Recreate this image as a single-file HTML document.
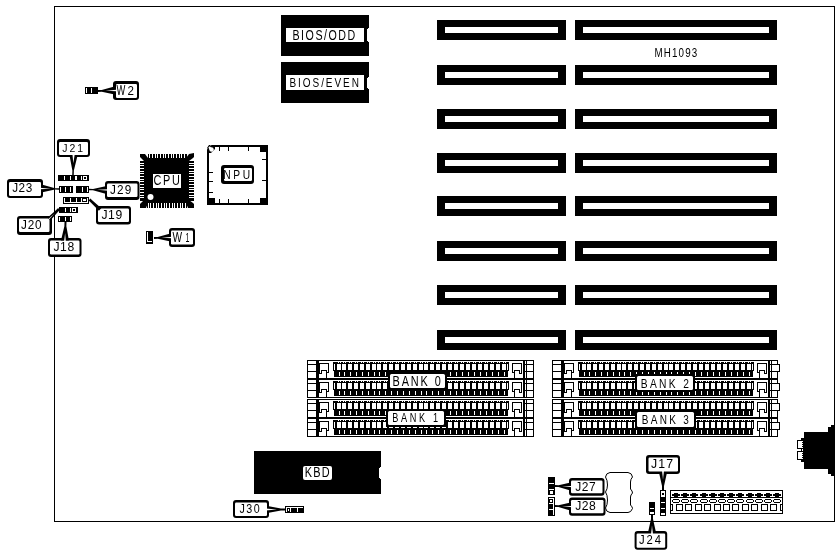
<!DOCTYPE html>
<html><head><meta charset="utf-8"><style>
html,body{margin:0;padding:0;background:#fff;overflow:hidden;}
svg{display:block;will-change:transform;}
text{font-family:"Liberation Sans",sans-serif;}
</style></head><body>
<svg width="840" height="556" viewBox="0 0 840 556" shape-rendering="crispEdges">
<rect x="54" y="6" width="781" height="1" fill="#000"/>
<rect x="54" y="521" width="781" height="1" fill="#000"/>
<rect x="54" y="6" width="1" height="516" fill="#000"/>
<rect x="834" y="6" width="1" height="516" fill="#000"/>
<rect x="437" y="20" width="129" height="20" fill="#000"/>
<rect x="445" y="27" width="113" height="6" fill="#fff"/>
<rect x="575" y="20" width="202" height="20" fill="#000"/>
<rect x="583" y="27" width="186" height="6" fill="#fff"/>
<rect x="437" y="65" width="129" height="20" fill="#000"/>
<rect x="445" y="72" width="113" height="6" fill="#fff"/>
<rect x="575" y="65" width="202" height="20" fill="#000"/>
<rect x="583" y="72" width="186" height="6" fill="#fff"/>
<rect x="437" y="109" width="129" height="20" fill="#000"/>
<rect x="445" y="116" width="113" height="6" fill="#fff"/>
<rect x="575" y="109" width="202" height="20" fill="#000"/>
<rect x="583" y="116" width="186" height="6" fill="#fff"/>
<rect x="437" y="153" width="129" height="20" fill="#000"/>
<rect x="445" y="160" width="113" height="6" fill="#fff"/>
<rect x="575" y="153" width="202" height="20" fill="#000"/>
<rect x="583" y="160" width="186" height="6" fill="#fff"/>
<rect x="437" y="196" width="129" height="20" fill="#000"/>
<rect x="445" y="203" width="113" height="6" fill="#fff"/>
<rect x="575" y="196" width="202" height="20" fill="#000"/>
<rect x="583" y="203" width="186" height="6" fill="#fff"/>
<rect x="437" y="241" width="129" height="20" fill="#000"/>
<rect x="445" y="248" width="113" height="6" fill="#fff"/>
<rect x="575" y="241" width="202" height="20" fill="#000"/>
<rect x="583" y="248" width="186" height="6" fill="#fff"/>
<rect x="437" y="285" width="129" height="20" fill="#000"/>
<rect x="445" y="292" width="113" height="6" fill="#fff"/>
<rect x="575" y="285" width="202" height="20" fill="#000"/>
<rect x="583" y="292" width="186" height="6" fill="#fff"/>
<rect x="437" y="330" width="129" height="20" fill="#000"/>
<rect x="445" y="337" width="113" height="6" fill="#fff"/>
<rect x="575" y="330" width="202" height="20" fill="#000"/>
<rect x="583" y="337" width="186" height="6" fill="#fff"/>
<rect x="281" y="15" width="88" height="41" fill="#000"/>
<rect x="286" y="28" width="78" height="14" fill="#fff"/>
<rect x="367" y="29" width="2" height="12" fill="#fff"/>
<rect x="368" y="28" width="1" height="14" fill="#fff"/>
<rect x="281" y="62" width="88" height="41" fill="#000"/>
<rect x="286" y="75" width="78" height="15" fill="#fff"/>
<rect x="367" y="78" width="2" height="10" fill="#fff"/>
<rect x="368" y="77" width="1" height="12" fill="#fff"/>
<rect x="85" y="87" width="13" height="7" fill="#000"/>
<rect x="86" y="88" width="1" height="5" fill="#fff"/>
<rect x="91" y="88" width="1" height="5" fill="#fff"/>
<rect x="113" y="81" width="26" height="19" rx="3" fill="#000" shape-rendering="geometricPrecision"/>
<rect x="116" y="84" width="21" height="14" rx="1.2" fill="#fff" shape-rendering="geometricPrecision"/>
<polygon points="114.37,86.45 101.72,89.88 97.97,90.00 98.03,92.00 101.78,91.87 114.63,94.45" fill="#000" shape-rendering="geometricPrecision"/>
<polygon points="116.47,89.63 105.50,90.75 116.52,91.13" fill="#fff" shape-rendering="geometricPrecision"/>
<rect x="58" y="175" width="31" height="6" fill="#000"/>
<rect x="64" y="176" width="1" height="4" fill="#fff"/>
<rect x="70" y="176" width="1" height="4" fill="#fff"/>
<rect x="75" y="176" width="2" height="4" fill="#fff"/>
<rect x="81" y="176" width="1" height="4" fill="#fff"/>
<rect x="83" y="176" width="4" height="4" fill="#fff"/>
<rect x="84" y="177" width="2" height="2" fill="#000"/>
<rect x="57" y="139" width="33" height="18" rx="3" fill="#000" shape-rendering="geometricPrecision"/>
<rect x="59" y="142" width="29" height="13" rx="1.2" fill="#fff" shape-rendering="geometricPrecision"/>
<polygon points="69.54,155.39 72.38,170.48 72.25,174.98 73.75,175.02 73.87,170.52 77.54,155.61" fill="#000" shape-rendering="geometricPrecision"/>
<polygon points="72.35,153.47 73.33,163.30 74.85,153.54" fill="#fff" shape-rendering="geometricPrecision"/>
<rect x="59" y="186" width="14" height="7" fill="#000"/>
<rect x="60" y="187" width="1" height="5" fill="#fff"/>
<rect x="65" y="187" width="1" height="5" fill="#fff"/>
<rect x="70" y="187" width="1" height="5" fill="#fff"/>
<rect x="76" y="186" width="13" height="7" fill="#000"/>
<rect x="82" y="187" width="1" height="5" fill="#fff"/>
<rect x="87" y="187" width="1" height="5" fill="#fff"/>
<rect x="7" y="179" width="36" height="19" rx="3" fill="#000" shape-rendering="geometricPrecision"/>
<rect x="9" y="182" width="32" height="14" rx="1.2" fill="#fff" shape-rendering="geometricPrecision"/>
<polygon points="41.38,192.45 54.98,189.62 58.98,189.75 59.02,188.25 55.02,188.13 41.63,184.46" fill="#000" shape-rendering="geometricPrecision"/>
<polygon points="39.48,189.14 51.00,188.75 39.53,187.64" fill="#fff" shape-rendering="geometricPrecision"/>
<rect x="105" y="181" width="34.5" height="19" rx="3" fill="#000" shape-rendering="geometricPrecision"/>
<rect x="107" y="183.5" width="30.5" height="13.5" rx="1.2" fill="#fff" shape-rendering="geometricPrecision"/>
<polygon points="106.62,186.05 93.02,188.88 89.02,188.75 88.98,190.25 92.98,190.37 106.37,194.04" fill="#000" shape-rendering="geometricPrecision"/>
<polygon points="108.52,189.36 97.00,189.75 108.47,190.86" fill="#fff" shape-rendering="geometricPrecision"/>
<rect x="63" y="197" width="26" height="7" fill="#fff"/>
<rect x="63" y="197" width="26" height="1" fill="#000"/>
<rect x="63" y="203" width="26" height="1" fill="#000"/>
<rect x="63" y="197" width="1" height="7" fill="#000"/>
<rect x="88" y="197" width="1" height="7" fill="#000"/>
<rect x="65" y="197" width="5" height="5" fill="#000"/>
<rect x="71" y="197" width="5" height="5" fill="#000"/>
<rect x="77" y="197" width="4" height="5" fill="#000"/>
<rect x="82" y="198" width="5" height="4" fill="#000"/>
<rect x="83" y="199" width="3" height="2" fill="#fff"/>
<rect x="96" y="206" width="35" height="18.5" rx="3" fill="#000" shape-rendering="geometricPrecision"/>
<rect x="98" y="208.5" width="31" height="13.5" rx="1.2" fill="#fff" shape-rendering="geometricPrecision"/>
<polygon points="101.29,208.26 92.73,200.84 90.36,198.59 88.64,200.41 91.02,202.66 98.89,210.80" fill="#000" shape-rendering="geometricPrecision"/>
<rect x="59" y="207" width="19" height="6" fill="#000"/>
<rect x="65" y="208" width="1" height="4" fill="#fff"/>
<rect x="70" y="208" width="1" height="4" fill="#fff"/>
<rect x="72" y="208" width="4" height="4" fill="#fff"/>
<rect x="73" y="209" width="2" height="2" fill="#000"/>
<rect x="17" y="216" width="35" height="19" rx="3" fill="#000" shape-rendering="geometricPrecision"/>
<rect x="19" y="218.5" width="30.5" height="13.5" rx="1.2" fill="#fff" shape-rendering="geometricPrecision"/>
<polygon points="50.35,220.47 57.63,212.13 59.88,209.88 58.12,208.12 55.87,210.37 47.53,217.65" fill="#000" shape-rendering="geometricPrecision"/>
<polygon points="47.88,220.83 54.50,213.50 47.17,220.12" fill="#fff" shape-rendering="geometricPrecision"/>
<rect x="58" y="216" width="14" height="6" fill="#000"/>
<rect x="59" y="217" width="1" height="4" fill="#fff"/>
<rect x="65" y="217" width="1" height="4" fill="#fff"/>
<rect x="70" y="217" width="1" height="4" fill="#fff"/>
<rect x="48" y="238" width="33.5" height="19" rx="3" fill="#000" shape-rendering="geometricPrecision"/>
<rect x="50" y="240.5" width="29.5" height="14.0" rx="1.2" fill="#fff" shape-rendering="geometricPrecision"/>
<polygon points="68.95,240.62 66.37,226.28 66.50,222.03 64.50,221.97 64.38,226.22 60.96,240.38" fill="#000" shape-rendering="geometricPrecision"/>
<polygon points="65.90,242.53 65.17,233.05 63.90,242.47" fill="#fff" shape-rendering="geometricPrecision"/>
<rect x="144" y="158" width="45" height="45" fill="#000"/>
<rect x="147" y="154" width="40" height="4" fill="#000"/>
<rect x="147" y="154" width="1" height="4" fill="#fff"/>
<rect x="149" y="154" width="1" height="4" fill="#fff"/>
<rect x="152" y="154" width="1" height="4" fill="#fff"/>
<rect x="155" y="154" width="1" height="4" fill="#fff"/>
<rect x="157" y="154" width="1" height="4" fill="#fff"/>
<rect x="160" y="154" width="1" height="4" fill="#fff"/>
<rect x="163" y="154" width="1" height="4" fill="#fff"/>
<rect x="165" y="154" width="1" height="4" fill="#fff"/>
<rect x="168" y="154" width="1" height="4" fill="#fff"/>
<rect x="171" y="154" width="1" height="4" fill="#fff"/>
<rect x="173" y="154" width="1" height="4" fill="#fff"/>
<rect x="176" y="154" width="1" height="4" fill="#fff"/>
<rect x="179" y="154" width="1" height="4" fill="#fff"/>
<rect x="181" y="154" width="1" height="4" fill="#fff"/>
<rect x="184" y="154" width="1" height="4" fill="#fff"/>
<rect x="147" y="203" width="40" height="5" fill="#000"/>
<rect x="148" y="203" width="1" height="5" fill="#fff"/>
<rect x="150" y="203" width="1" height="5" fill="#fff"/>
<rect x="153" y="203" width="1" height="5" fill="#fff"/>
<rect x="156" y="203" width="1" height="5" fill="#fff"/>
<rect x="158" y="203" width="1" height="5" fill="#fff"/>
<rect x="161" y="203" width="1" height="5" fill="#fff"/>
<rect x="164" y="203" width="1" height="5" fill="#fff"/>
<rect x="166" y="203" width="1" height="5" fill="#fff"/>
<rect x="169" y="203" width="1" height="5" fill="#fff"/>
<rect x="172" y="203" width="1" height="5" fill="#fff"/>
<rect x="174" y="203" width="1" height="5" fill="#fff"/>
<rect x="177" y="203" width="1" height="5" fill="#fff"/>
<rect x="180" y="203" width="1" height="5" fill="#fff"/>
<rect x="182" y="203" width="1" height="5" fill="#fff"/>
<rect x="185" y="203" width="1" height="5" fill="#fff"/>
<rect x="140" y="161" width="4" height="40" fill="#000"/>
<rect x="140" y="163" width="4" height="1" fill="#fff"/>
<rect x="140" y="165" width="4" height="1" fill="#fff"/>
<rect x="140" y="168" width="4" height="1" fill="#fff"/>
<rect x="140" y="171" width="4" height="1" fill="#fff"/>
<rect x="140" y="173" width="4" height="1" fill="#fff"/>
<rect x="140" y="176" width="4" height="1" fill="#fff"/>
<rect x="140" y="179" width="4" height="1" fill="#fff"/>
<rect x="140" y="181" width="4" height="1" fill="#fff"/>
<rect x="140" y="184" width="4" height="1" fill="#fff"/>
<rect x="140" y="187" width="4" height="1" fill="#fff"/>
<rect x="140" y="189" width="4" height="1" fill="#fff"/>
<rect x="140" y="192" width="4" height="1" fill="#fff"/>
<rect x="140" y="195" width="4" height="1" fill="#fff"/>
<rect x="140" y="197" width="4" height="1" fill="#fff"/>
<rect x="189" y="161" width="5" height="40" fill="#000"/>
<rect x="189" y="163" width="5" height="1" fill="#fff"/>
<rect x="189" y="165" width="5" height="1" fill="#fff"/>
<rect x="189" y="168" width="5" height="1" fill="#fff"/>
<rect x="189" y="171" width="5" height="1" fill="#fff"/>
<rect x="189" y="173" width="5" height="1" fill="#fff"/>
<rect x="189" y="176" width="5" height="1" fill="#fff"/>
<rect x="189" y="179" width="5" height="1" fill="#fff"/>
<rect x="189" y="181" width="5" height="1" fill="#fff"/>
<rect x="189" y="184" width="5" height="1" fill="#fff"/>
<rect x="189" y="187" width="5" height="1" fill="#fff"/>
<rect x="189" y="189" width="5" height="1" fill="#fff"/>
<rect x="189" y="192" width="5" height="1" fill="#fff"/>
<rect x="189" y="195" width="5" height="1" fill="#fff"/>
<rect x="189" y="197" width="5" height="1" fill="#fff"/>
<polygon points="140.00,154.00 145.00,154.00 148.00,158.00 144.00,161.00 141.00,158.00 140.00,157.00" fill="#000" shape-rendering="geometricPrecision"/>
<polygon points="194.00,153.00 189.00,154.00 186.00,158.00 189.00,161.00 193.00,158.00 194.00,157.00" fill="#000" shape-rendering="geometricPrecision"/>
<polygon points="140.00,208.00 146.00,208.00 148.00,203.00 144.00,200.00 141.00,203.00 140.00,204.00" fill="#000" shape-rendering="geometricPrecision"/>
<polygon points="194.00,208.00 188.00,208.00 186.00,203.00 189.00,200.00 193.00,203.00 194.00,204.00" fill="#000" shape-rendering="geometricPrecision"/>
<rect x="153" y="174" width="28" height="14" fill="#fff"/>
<circle cx="150.5" cy="197" r="3" fill="#fff" shape-rendering="geometricPrecision"/>
<rect x="207" y="145" width="61" height="2" fill="#000"/>
<rect x="207" y="203" width="61" height="2" fill="#000"/>
<rect x="207" y="145" width="2" height="60" fill="#000"/>
<rect x="266" y="145" width="2" height="60" fill="#000"/>
<rect x="260" y="145" width="8" height="7" fill="#000"/>
<rect x="207" y="198" width="8" height="7" fill="#000"/>
<rect x="260" y="198" width="8" height="7" fill="#000"/>
<polygon points="206.00,145.00 211.50,145.00 206.00,150.50" fill="#fff" shape-rendering="geometricPrecision"/>
<polygon points="207.00,149.00 211.00,145.00 213.00,145.00 209.00,150.00 209.00,153.00 211.00,153.00 215.00,149.00 215.00,147.00 213.00,147.00 213.00,145.00 209.00,145.00 207.00,148.00" fill="#000" shape-rendering="geometricPrecision"/>
<circle cx="211.5" cy="149.5" r="2.2" fill="#fff" shape-rendering="geometricPrecision"/>
<rect x="219" y="147" width="1" height="4" fill="#000"/>
<rect x="219" y="199" width="1" height="4" fill="#000"/>
<rect x="228" y="147" width="1" height="4" fill="#000"/>
<rect x="228" y="199" width="1" height="4" fill="#000"/>
<rect x="248" y="147" width="1" height="4" fill="#000"/>
<rect x="248" y="199" width="1" height="4" fill="#000"/>
<rect x="209" y="172" width="4" height="1" fill="#000"/>
<rect x="209" y="181" width="4" height="1" fill="#000"/>
<rect x="209" y="192" width="4" height="1" fill="#000"/>
<rect x="262" y="159" width="4" height="1" fill="#000"/>
<rect x="262" y="180" width="4" height="1" fill="#000"/>
<rect x="221" y="165" width="33" height="19" rx="3" fill="#000" shape-rendering="geometricPrecision"/>
<rect x="224" y="168" width="28" height="13" rx="1.2" fill="#fff" shape-rendering="geometricPrecision"/>
<rect x="146" y="231" width="7" height="13" fill="#000"/>
<rect x="147" y="232" width="1" height="10" fill="#fff"/>
<rect x="147" y="241" width="5" height="1" fill="#fff"/>
<rect x="169" y="228" width="26" height="19" rx="3" fill="#000" shape-rendering="geometricPrecision"/>
<rect x="171" y="230.5" width="22" height="14.0" rx="1.2" fill="#fff" shape-rendering="geometricPrecision"/>
<polygon points="170.37,233.45 157.72,236.88 153.97,237.00 154.03,239.00 157.78,238.87 170.63,241.45" fill="#000" shape-rendering="geometricPrecision"/>
<polygon points="172.47,236.63 161.50,237.75 172.52,238.13" fill="#fff" shape-rendering="geometricPrecision"/>
<rect x="307" y="360" width="227" height="1" fill="#000"/>
<rect x="307" y="378" width="227" height="1" fill="#000"/>
<rect x="307" y="360" width="1" height="19" fill="#000"/>
<rect x="308" y="364" width="8" height="1" fill="#000"/>
<rect x="308" y="371" width="8" height="1" fill="#000"/>
<rect x="316" y="361" width="3" height="17" fill="#000"/>
<rect x="319" y="363" width="10" height="1" fill="#000"/>
<rect x="319" y="363" width="1" height="11" fill="#000"/>
<rect x="328" y="363" width="1" height="10" fill="#000"/>
<rect x="326" y="372" width="3" height="1" fill="#000"/>
<rect x="321" y="370" width="6" height="1" fill="#000"/>
<rect x="321" y="370" width="1" height="4" fill="#000"/>
<rect x="319" y="373" width="3" height="1" fill="#000"/>
<rect x="326" y="370" width="1" height="8" fill="#000"/>
<rect x="533" y="360" width="1" height="19" fill="#000"/>
<rect x="525" y="364" width="8" height="1" fill="#000"/>
<rect x="525" y="371" width="8" height="1" fill="#000"/>
<rect x="526" y="361" width="1" height="17" fill="#000"/>
<rect x="523" y="361" width="2" height="17" fill="#000"/>
<rect x="512" y="363" width="10" height="1" fill="#000"/>
<rect x="521" y="363" width="1" height="11" fill="#000"/>
<rect x="512" y="363" width="1" height="10" fill="#000"/>
<rect x="512" y="372" width="3" height="1" fill="#000"/>
<rect x="514" y="370" width="6" height="1" fill="#000"/>
<rect x="519" y="370" width="1" height="4" fill="#000"/>
<rect x="519" y="373" width="3" height="1" fill="#000"/>
<rect x="514" y="370" width="1" height="8" fill="#000"/>
<rect x="333" y="362" width="176" height="9" fill="#000"/>
<rect x="334" y="371" width="174" height="6" fill="#000"/>
<rect x="337" y="364" width="4" height="6" fill="#fff"/>
<rect x="339" y="372" width="1" height="4" fill="#fff"/>
<rect x="338" y="362" width="1" height="1" fill="#fff"/>
<rect x="340" y="362" width="1" height="1" fill="#fff"/>
<rect x="342" y="364" width="4" height="6" fill="#fff"/>
<rect x="344" y="372" width="1" height="4" fill="#fff"/>
<rect x="343" y="362" width="1" height="1" fill="#fff"/>
<rect x="345" y="362" width="1" height="1" fill="#fff"/>
<rect x="348" y="364" width="4" height="6" fill="#fff"/>
<rect x="350" y="372" width="1" height="4" fill="#fff"/>
<rect x="349" y="362" width="1" height="1" fill="#fff"/>
<rect x="351" y="362" width="1" height="1" fill="#fff"/>
<rect x="354" y="364" width="4" height="6" fill="#fff"/>
<rect x="356" y="372" width="1" height="4" fill="#fff"/>
<rect x="355" y="362" width="1" height="1" fill="#fff"/>
<rect x="357" y="362" width="1" height="1" fill="#fff"/>
<rect x="360" y="364" width="4" height="6" fill="#fff"/>
<rect x="362" y="372" width="1" height="4" fill="#fff"/>
<rect x="361" y="362" width="1" height="1" fill="#fff"/>
<rect x="363" y="362" width="1" height="1" fill="#fff"/>
<rect x="366" y="364" width="4" height="6" fill="#fff"/>
<rect x="368" y="372" width="1" height="4" fill="#fff"/>
<rect x="367" y="362" width="1" height="1" fill="#fff"/>
<rect x="369" y="362" width="1" height="1" fill="#fff"/>
<rect x="372" y="364" width="4" height="6" fill="#fff"/>
<rect x="374" y="372" width="1" height="4" fill="#fff"/>
<rect x="373" y="362" width="1" height="1" fill="#fff"/>
<rect x="375" y="362" width="1" height="1" fill="#fff"/>
<rect x="377" y="364" width="4" height="6" fill="#fff"/>
<rect x="379" y="372" width="1" height="4" fill="#fff"/>
<rect x="378" y="362" width="1" height="1" fill="#fff"/>
<rect x="380" y="362" width="1" height="1" fill="#fff"/>
<rect x="383" y="364" width="4" height="6" fill="#fff"/>
<rect x="385" y="372" width="1" height="4" fill="#fff"/>
<rect x="384" y="362" width="1" height="1" fill="#fff"/>
<rect x="386" y="362" width="1" height="1" fill="#fff"/>
<rect x="389" y="364" width="4" height="6" fill="#fff"/>
<rect x="391" y="372" width="1" height="4" fill="#fff"/>
<rect x="390" y="362" width="1" height="1" fill="#fff"/>
<rect x="392" y="362" width="1" height="1" fill="#fff"/>
<rect x="395" y="364" width="4" height="6" fill="#fff"/>
<rect x="397" y="372" width="1" height="4" fill="#fff"/>
<rect x="396" y="362" width="1" height="1" fill="#fff"/>
<rect x="398" y="362" width="1" height="1" fill="#fff"/>
<rect x="401" y="364" width="4" height="6" fill="#fff"/>
<rect x="403" y="372" width="1" height="4" fill="#fff"/>
<rect x="402" y="362" width="1" height="1" fill="#fff"/>
<rect x="404" y="362" width="1" height="1" fill="#fff"/>
<rect x="407" y="364" width="4" height="6" fill="#fff"/>
<rect x="409" y="372" width="1" height="4" fill="#fff"/>
<rect x="408" y="362" width="1" height="1" fill="#fff"/>
<rect x="410" y="362" width="1" height="1" fill="#fff"/>
<rect x="413" y="364" width="4" height="6" fill="#fff"/>
<rect x="415" y="372" width="1" height="4" fill="#fff"/>
<rect x="414" y="362" width="1" height="1" fill="#fff"/>
<rect x="416" y="362" width="1" height="1" fill="#fff"/>
<rect x="419" y="364" width="4" height="6" fill="#fff"/>
<rect x="421" y="372" width="1" height="4" fill="#fff"/>
<rect x="420" y="362" width="1" height="1" fill="#fff"/>
<rect x="422" y="362" width="1" height="1" fill="#fff"/>
<rect x="424" y="364" width="4" height="6" fill="#fff"/>
<rect x="426" y="372" width="1" height="4" fill="#fff"/>
<rect x="425" y="362" width="1" height="1" fill="#fff"/>
<rect x="427" y="362" width="1" height="1" fill="#fff"/>
<rect x="430" y="364" width="4" height="6" fill="#fff"/>
<rect x="432" y="372" width="1" height="4" fill="#fff"/>
<rect x="431" y="362" width="1" height="1" fill="#fff"/>
<rect x="433" y="362" width="1" height="1" fill="#fff"/>
<rect x="436" y="364" width="4" height="6" fill="#fff"/>
<rect x="438" y="372" width="1" height="4" fill="#fff"/>
<rect x="437" y="362" width="1" height="1" fill="#fff"/>
<rect x="439" y="362" width="1" height="1" fill="#fff"/>
<rect x="442" y="364" width="4" height="6" fill="#fff"/>
<rect x="444" y="372" width="1" height="4" fill="#fff"/>
<rect x="443" y="362" width="1" height="1" fill="#fff"/>
<rect x="445" y="362" width="1" height="1" fill="#fff"/>
<rect x="448" y="364" width="4" height="6" fill="#fff"/>
<rect x="450" y="372" width="1" height="4" fill="#fff"/>
<rect x="449" y="362" width="1" height="1" fill="#fff"/>
<rect x="451" y="362" width="1" height="1" fill="#fff"/>
<rect x="454" y="364" width="4" height="6" fill="#fff"/>
<rect x="456" y="372" width="1" height="4" fill="#fff"/>
<rect x="455" y="362" width="1" height="1" fill="#fff"/>
<rect x="457" y="362" width="1" height="1" fill="#fff"/>
<rect x="460" y="364" width="4" height="6" fill="#fff"/>
<rect x="462" y="372" width="1" height="4" fill="#fff"/>
<rect x="461" y="362" width="1" height="1" fill="#fff"/>
<rect x="463" y="362" width="1" height="1" fill="#fff"/>
<rect x="466" y="364" width="4" height="6" fill="#fff"/>
<rect x="468" y="372" width="1" height="4" fill="#fff"/>
<rect x="467" y="362" width="1" height="1" fill="#fff"/>
<rect x="469" y="362" width="1" height="1" fill="#fff"/>
<rect x="472" y="364" width="4" height="6" fill="#fff"/>
<rect x="474" y="372" width="1" height="4" fill="#fff"/>
<rect x="473" y="362" width="1" height="1" fill="#fff"/>
<rect x="475" y="362" width="1" height="1" fill="#fff"/>
<rect x="478" y="364" width="4" height="6" fill="#fff"/>
<rect x="480" y="372" width="1" height="4" fill="#fff"/>
<rect x="479" y="362" width="1" height="1" fill="#fff"/>
<rect x="481" y="362" width="1" height="1" fill="#fff"/>
<rect x="484" y="364" width="4" height="6" fill="#fff"/>
<rect x="486" y="372" width="1" height="4" fill="#fff"/>
<rect x="485" y="362" width="1" height="1" fill="#fff"/>
<rect x="487" y="362" width="1" height="1" fill="#fff"/>
<rect x="490" y="364" width="4" height="6" fill="#fff"/>
<rect x="492" y="372" width="1" height="4" fill="#fff"/>
<rect x="491" y="362" width="1" height="1" fill="#fff"/>
<rect x="493" y="362" width="1" height="1" fill="#fff"/>
<rect x="496" y="364" width="4" height="6" fill="#fff"/>
<rect x="498" y="372" width="1" height="4" fill="#fff"/>
<rect x="497" y="362" width="1" height="1" fill="#fff"/>
<rect x="499" y="362" width="1" height="1" fill="#fff"/>
<rect x="502" y="364" width="4" height="6" fill="#fff"/>
<rect x="504" y="372" width="1" height="4" fill="#fff"/>
<rect x="503" y="362" width="1" height="1" fill="#fff"/>
<rect x="505" y="362" width="1" height="1" fill="#fff"/>
<rect x="334" y="364" width="1" height="6" fill="#fff"/>
<rect x="507" y="364" width="1" height="6" fill="#fff"/>
<rect x="552" y="360" width="227" height="1" fill="#000"/>
<rect x="552" y="378" width="227" height="1" fill="#000"/>
<rect x="552" y="360" width="1" height="19" fill="#000"/>
<rect x="553" y="364" width="8" height="1" fill="#000"/>
<rect x="553" y="371" width="8" height="1" fill="#000"/>
<rect x="561" y="361" width="3" height="17" fill="#000"/>
<rect x="564" y="363" width="10" height="1" fill="#000"/>
<rect x="564" y="363" width="1" height="11" fill="#000"/>
<rect x="573" y="363" width="1" height="10" fill="#000"/>
<rect x="571" y="372" width="3" height="1" fill="#000"/>
<rect x="566" y="370" width="6" height="1" fill="#000"/>
<rect x="566" y="370" width="1" height="4" fill="#000"/>
<rect x="564" y="373" width="3" height="1" fill="#000"/>
<rect x="571" y="370" width="1" height="8" fill="#000"/>
<rect x="778" y="360" width="1" height="19" fill="#000"/>
<rect x="770" y="364" width="8" height="1" fill="#000"/>
<rect x="770" y="371" width="8" height="1" fill="#000"/>
<rect x="771" y="361" width="1" height="17" fill="#000"/>
<rect x="768" y="361" width="2" height="17" fill="#000"/>
<rect x="757" y="363" width="10" height="1" fill="#000"/>
<rect x="766" y="363" width="1" height="11" fill="#000"/>
<rect x="757" y="363" width="1" height="10" fill="#000"/>
<rect x="757" y="372" width="3" height="1" fill="#000"/>
<rect x="759" y="370" width="6" height="1" fill="#000"/>
<rect x="764" y="370" width="1" height="4" fill="#000"/>
<rect x="764" y="373" width="3" height="1" fill="#000"/>
<rect x="759" y="370" width="1" height="8" fill="#000"/>
<rect x="578" y="362" width="176" height="9" fill="#000"/>
<rect x="579" y="371" width="174" height="6" fill="#000"/>
<rect x="582" y="364" width="4" height="6" fill="#fff"/>
<rect x="584" y="372" width="1" height="4" fill="#fff"/>
<rect x="583" y="362" width="1" height="1" fill="#fff"/>
<rect x="585" y="362" width="1" height="1" fill="#fff"/>
<rect x="587" y="364" width="4" height="6" fill="#fff"/>
<rect x="589" y="372" width="1" height="4" fill="#fff"/>
<rect x="588" y="362" width="1" height="1" fill="#fff"/>
<rect x="590" y="362" width="1" height="1" fill="#fff"/>
<rect x="593" y="364" width="4" height="6" fill="#fff"/>
<rect x="595" y="372" width="1" height="4" fill="#fff"/>
<rect x="594" y="362" width="1" height="1" fill="#fff"/>
<rect x="596" y="362" width="1" height="1" fill="#fff"/>
<rect x="599" y="364" width="4" height="6" fill="#fff"/>
<rect x="601" y="372" width="1" height="4" fill="#fff"/>
<rect x="600" y="362" width="1" height="1" fill="#fff"/>
<rect x="602" y="362" width="1" height="1" fill="#fff"/>
<rect x="605" y="364" width="4" height="6" fill="#fff"/>
<rect x="607" y="372" width="1" height="4" fill="#fff"/>
<rect x="606" y="362" width="1" height="1" fill="#fff"/>
<rect x="608" y="362" width="1" height="1" fill="#fff"/>
<rect x="611" y="364" width="4" height="6" fill="#fff"/>
<rect x="613" y="372" width="1" height="4" fill="#fff"/>
<rect x="612" y="362" width="1" height="1" fill="#fff"/>
<rect x="614" y="362" width="1" height="1" fill="#fff"/>
<rect x="617" y="364" width="4" height="6" fill="#fff"/>
<rect x="619" y="372" width="1" height="4" fill="#fff"/>
<rect x="618" y="362" width="1" height="1" fill="#fff"/>
<rect x="620" y="362" width="1" height="1" fill="#fff"/>
<rect x="622" y="364" width="4" height="6" fill="#fff"/>
<rect x="624" y="372" width="1" height="4" fill="#fff"/>
<rect x="623" y="362" width="1" height="1" fill="#fff"/>
<rect x="625" y="362" width="1" height="1" fill="#fff"/>
<rect x="628" y="364" width="4" height="6" fill="#fff"/>
<rect x="630" y="372" width="1" height="4" fill="#fff"/>
<rect x="629" y="362" width="1" height="1" fill="#fff"/>
<rect x="631" y="362" width="1" height="1" fill="#fff"/>
<rect x="634" y="364" width="4" height="6" fill="#fff"/>
<rect x="636" y="372" width="1" height="4" fill="#fff"/>
<rect x="635" y="362" width="1" height="1" fill="#fff"/>
<rect x="637" y="362" width="1" height="1" fill="#fff"/>
<rect x="640" y="364" width="4" height="6" fill="#fff"/>
<rect x="642" y="372" width="1" height="4" fill="#fff"/>
<rect x="641" y="362" width="1" height="1" fill="#fff"/>
<rect x="643" y="362" width="1" height="1" fill="#fff"/>
<rect x="646" y="364" width="4" height="6" fill="#fff"/>
<rect x="648" y="372" width="1" height="4" fill="#fff"/>
<rect x="647" y="362" width="1" height="1" fill="#fff"/>
<rect x="649" y="362" width="1" height="1" fill="#fff"/>
<rect x="652" y="364" width="4" height="6" fill="#fff"/>
<rect x="654" y="372" width="1" height="4" fill="#fff"/>
<rect x="653" y="362" width="1" height="1" fill="#fff"/>
<rect x="655" y="362" width="1" height="1" fill="#fff"/>
<rect x="658" y="364" width="4" height="6" fill="#fff"/>
<rect x="660" y="372" width="1" height="4" fill="#fff"/>
<rect x="659" y="362" width="1" height="1" fill="#fff"/>
<rect x="661" y="362" width="1" height="1" fill="#fff"/>
<rect x="664" y="364" width="4" height="6" fill="#fff"/>
<rect x="666" y="372" width="1" height="4" fill="#fff"/>
<rect x="665" y="362" width="1" height="1" fill="#fff"/>
<rect x="667" y="362" width="1" height="1" fill="#fff"/>
<rect x="669" y="364" width="4" height="6" fill="#fff"/>
<rect x="671" y="372" width="1" height="4" fill="#fff"/>
<rect x="670" y="362" width="1" height="1" fill="#fff"/>
<rect x="672" y="362" width="1" height="1" fill="#fff"/>
<rect x="675" y="364" width="4" height="6" fill="#fff"/>
<rect x="677" y="372" width="1" height="4" fill="#fff"/>
<rect x="676" y="362" width="1" height="1" fill="#fff"/>
<rect x="678" y="362" width="1" height="1" fill="#fff"/>
<rect x="681" y="364" width="4" height="6" fill="#fff"/>
<rect x="683" y="372" width="1" height="4" fill="#fff"/>
<rect x="682" y="362" width="1" height="1" fill="#fff"/>
<rect x="684" y="362" width="1" height="1" fill="#fff"/>
<rect x="687" y="364" width="4" height="6" fill="#fff"/>
<rect x="689" y="372" width="1" height="4" fill="#fff"/>
<rect x="688" y="362" width="1" height="1" fill="#fff"/>
<rect x="690" y="362" width="1" height="1" fill="#fff"/>
<rect x="693" y="364" width="4" height="6" fill="#fff"/>
<rect x="695" y="372" width="1" height="4" fill="#fff"/>
<rect x="694" y="362" width="1" height="1" fill="#fff"/>
<rect x="696" y="362" width="1" height="1" fill="#fff"/>
<rect x="699" y="364" width="4" height="6" fill="#fff"/>
<rect x="701" y="372" width="1" height="4" fill="#fff"/>
<rect x="700" y="362" width="1" height="1" fill="#fff"/>
<rect x="702" y="362" width="1" height="1" fill="#fff"/>
<rect x="705" y="364" width="4" height="6" fill="#fff"/>
<rect x="707" y="372" width="1" height="4" fill="#fff"/>
<rect x="706" y="362" width="1" height="1" fill="#fff"/>
<rect x="708" y="362" width="1" height="1" fill="#fff"/>
<rect x="711" y="364" width="4" height="6" fill="#fff"/>
<rect x="713" y="372" width="1" height="4" fill="#fff"/>
<rect x="712" y="362" width="1" height="1" fill="#fff"/>
<rect x="714" y="362" width="1" height="1" fill="#fff"/>
<rect x="717" y="364" width="4" height="6" fill="#fff"/>
<rect x="719" y="372" width="1" height="4" fill="#fff"/>
<rect x="718" y="362" width="1" height="1" fill="#fff"/>
<rect x="720" y="362" width="1" height="1" fill="#fff"/>
<rect x="723" y="364" width="4" height="6" fill="#fff"/>
<rect x="725" y="372" width="1" height="4" fill="#fff"/>
<rect x="724" y="362" width="1" height="1" fill="#fff"/>
<rect x="726" y="362" width="1" height="1" fill="#fff"/>
<rect x="729" y="364" width="4" height="6" fill="#fff"/>
<rect x="731" y="372" width="1" height="4" fill="#fff"/>
<rect x="730" y="362" width="1" height="1" fill="#fff"/>
<rect x="732" y="362" width="1" height="1" fill="#fff"/>
<rect x="735" y="364" width="4" height="6" fill="#fff"/>
<rect x="737" y="372" width="1" height="4" fill="#fff"/>
<rect x="736" y="362" width="1" height="1" fill="#fff"/>
<rect x="738" y="362" width="1" height="1" fill="#fff"/>
<rect x="741" y="364" width="4" height="6" fill="#fff"/>
<rect x="743" y="372" width="1" height="4" fill="#fff"/>
<rect x="742" y="362" width="1" height="1" fill="#fff"/>
<rect x="744" y="362" width="1" height="1" fill="#fff"/>
<rect x="747" y="364" width="4" height="6" fill="#fff"/>
<rect x="749" y="372" width="1" height="4" fill="#fff"/>
<rect x="748" y="362" width="1" height="1" fill="#fff"/>
<rect x="750" y="362" width="1" height="1" fill="#fff"/>
<rect x="579" y="364" width="1" height="6" fill="#fff"/>
<rect x="752" y="364" width="1" height="6" fill="#fff"/>
<rect x="778" y="360" width="1" height="19" fill="#fff"/>
<rect x="777" y="360" width="1" height="19" fill="#000"/>
<rect x="777" y="364" width="3" height="8" fill="#000"/>
<rect x="777" y="365" width="2" height="6" fill="#fff"/>
<rect x="307" y="379" width="227" height="1" fill="#000"/>
<rect x="307" y="397" width="227" height="1" fill="#000"/>
<rect x="307" y="379" width="1" height="19" fill="#000"/>
<rect x="308" y="383" width="8" height="1" fill="#000"/>
<rect x="308" y="390" width="8" height="1" fill="#000"/>
<rect x="316" y="380" width="3" height="17" fill="#000"/>
<rect x="319" y="382" width="10" height="1" fill="#000"/>
<rect x="319" y="382" width="1" height="11" fill="#000"/>
<rect x="328" y="382" width="1" height="10" fill="#000"/>
<rect x="326" y="391" width="3" height="1" fill="#000"/>
<rect x="321" y="389" width="6" height="1" fill="#000"/>
<rect x="321" y="389" width="1" height="4" fill="#000"/>
<rect x="319" y="392" width="3" height="1" fill="#000"/>
<rect x="326" y="389" width="1" height="8" fill="#000"/>
<rect x="533" y="379" width="1" height="19" fill="#000"/>
<rect x="525" y="383" width="8" height="1" fill="#000"/>
<rect x="525" y="390" width="8" height="1" fill="#000"/>
<rect x="526" y="380" width="1" height="17" fill="#000"/>
<rect x="523" y="380" width="2" height="17" fill="#000"/>
<rect x="512" y="382" width="10" height="1" fill="#000"/>
<rect x="521" y="382" width="1" height="11" fill="#000"/>
<rect x="512" y="382" width="1" height="10" fill="#000"/>
<rect x="512" y="391" width="3" height="1" fill="#000"/>
<rect x="514" y="389" width="6" height="1" fill="#000"/>
<rect x="519" y="389" width="1" height="4" fill="#000"/>
<rect x="519" y="392" width="3" height="1" fill="#000"/>
<rect x="514" y="389" width="1" height="8" fill="#000"/>
<rect x="333" y="381" width="176" height="9" fill="#000"/>
<rect x="334" y="390" width="174" height="6" fill="#000"/>
<rect x="337" y="383" width="4" height="6" fill="#fff"/>
<rect x="339" y="391" width="1" height="4" fill="#fff"/>
<rect x="338" y="381" width="1" height="1" fill="#fff"/>
<rect x="340" y="381" width="1" height="1" fill="#fff"/>
<rect x="342" y="383" width="4" height="6" fill="#fff"/>
<rect x="344" y="391" width="1" height="4" fill="#fff"/>
<rect x="343" y="381" width="1" height="1" fill="#fff"/>
<rect x="345" y="381" width="1" height="1" fill="#fff"/>
<rect x="348" y="383" width="4" height="6" fill="#fff"/>
<rect x="350" y="391" width="1" height="4" fill="#fff"/>
<rect x="349" y="381" width="1" height="1" fill="#fff"/>
<rect x="351" y="381" width="1" height="1" fill="#fff"/>
<rect x="354" y="383" width="4" height="6" fill="#fff"/>
<rect x="356" y="391" width="1" height="4" fill="#fff"/>
<rect x="355" y="381" width="1" height="1" fill="#fff"/>
<rect x="357" y="381" width="1" height="1" fill="#fff"/>
<rect x="360" y="383" width="4" height="6" fill="#fff"/>
<rect x="362" y="391" width="1" height="4" fill="#fff"/>
<rect x="361" y="381" width="1" height="1" fill="#fff"/>
<rect x="363" y="381" width="1" height="1" fill="#fff"/>
<rect x="366" y="383" width="4" height="6" fill="#fff"/>
<rect x="368" y="391" width="1" height="4" fill="#fff"/>
<rect x="367" y="381" width="1" height="1" fill="#fff"/>
<rect x="369" y="381" width="1" height="1" fill="#fff"/>
<rect x="372" y="383" width="4" height="6" fill="#fff"/>
<rect x="374" y="391" width="1" height="4" fill="#fff"/>
<rect x="373" y="381" width="1" height="1" fill="#fff"/>
<rect x="375" y="381" width="1" height="1" fill="#fff"/>
<rect x="377" y="383" width="4" height="6" fill="#fff"/>
<rect x="379" y="391" width="1" height="4" fill="#fff"/>
<rect x="378" y="381" width="1" height="1" fill="#fff"/>
<rect x="380" y="381" width="1" height="1" fill="#fff"/>
<rect x="383" y="383" width="4" height="6" fill="#fff"/>
<rect x="385" y="391" width="1" height="4" fill="#fff"/>
<rect x="384" y="381" width="1" height="1" fill="#fff"/>
<rect x="386" y="381" width="1" height="1" fill="#fff"/>
<rect x="389" y="383" width="4" height="6" fill="#fff"/>
<rect x="391" y="391" width="1" height="4" fill="#fff"/>
<rect x="390" y="381" width="1" height="1" fill="#fff"/>
<rect x="392" y="381" width="1" height="1" fill="#fff"/>
<rect x="395" y="383" width="4" height="6" fill="#fff"/>
<rect x="397" y="391" width="1" height="4" fill="#fff"/>
<rect x="396" y="381" width="1" height="1" fill="#fff"/>
<rect x="398" y="381" width="1" height="1" fill="#fff"/>
<rect x="401" y="383" width="4" height="6" fill="#fff"/>
<rect x="403" y="391" width="1" height="4" fill="#fff"/>
<rect x="402" y="381" width="1" height="1" fill="#fff"/>
<rect x="404" y="381" width="1" height="1" fill="#fff"/>
<rect x="407" y="383" width="4" height="6" fill="#fff"/>
<rect x="409" y="391" width="1" height="4" fill="#fff"/>
<rect x="408" y="381" width="1" height="1" fill="#fff"/>
<rect x="410" y="381" width="1" height="1" fill="#fff"/>
<rect x="413" y="383" width="4" height="6" fill="#fff"/>
<rect x="415" y="391" width="1" height="4" fill="#fff"/>
<rect x="414" y="381" width="1" height="1" fill="#fff"/>
<rect x="416" y="381" width="1" height="1" fill="#fff"/>
<rect x="419" y="383" width="4" height="6" fill="#fff"/>
<rect x="421" y="391" width="1" height="4" fill="#fff"/>
<rect x="420" y="381" width="1" height="1" fill="#fff"/>
<rect x="422" y="381" width="1" height="1" fill="#fff"/>
<rect x="424" y="383" width="4" height="6" fill="#fff"/>
<rect x="426" y="391" width="1" height="4" fill="#fff"/>
<rect x="425" y="381" width="1" height="1" fill="#fff"/>
<rect x="427" y="381" width="1" height="1" fill="#fff"/>
<rect x="430" y="383" width="4" height="6" fill="#fff"/>
<rect x="432" y="391" width="1" height="4" fill="#fff"/>
<rect x="431" y="381" width="1" height="1" fill="#fff"/>
<rect x="433" y="381" width="1" height="1" fill="#fff"/>
<rect x="436" y="383" width="4" height="6" fill="#fff"/>
<rect x="438" y="391" width="1" height="4" fill="#fff"/>
<rect x="437" y="381" width="1" height="1" fill="#fff"/>
<rect x="439" y="381" width="1" height="1" fill="#fff"/>
<rect x="442" y="383" width="4" height="6" fill="#fff"/>
<rect x="444" y="391" width="1" height="4" fill="#fff"/>
<rect x="443" y="381" width="1" height="1" fill="#fff"/>
<rect x="445" y="381" width="1" height="1" fill="#fff"/>
<rect x="448" y="383" width="4" height="6" fill="#fff"/>
<rect x="450" y="391" width="1" height="4" fill="#fff"/>
<rect x="449" y="381" width="1" height="1" fill="#fff"/>
<rect x="451" y="381" width="1" height="1" fill="#fff"/>
<rect x="454" y="383" width="4" height="6" fill="#fff"/>
<rect x="456" y="391" width="1" height="4" fill="#fff"/>
<rect x="455" y="381" width="1" height="1" fill="#fff"/>
<rect x="457" y="381" width="1" height="1" fill="#fff"/>
<rect x="460" y="383" width="4" height="6" fill="#fff"/>
<rect x="462" y="391" width="1" height="4" fill="#fff"/>
<rect x="461" y="381" width="1" height="1" fill="#fff"/>
<rect x="463" y="381" width="1" height="1" fill="#fff"/>
<rect x="466" y="383" width="4" height="6" fill="#fff"/>
<rect x="468" y="391" width="1" height="4" fill="#fff"/>
<rect x="467" y="381" width="1" height="1" fill="#fff"/>
<rect x="469" y="381" width="1" height="1" fill="#fff"/>
<rect x="472" y="383" width="4" height="6" fill="#fff"/>
<rect x="474" y="391" width="1" height="4" fill="#fff"/>
<rect x="473" y="381" width="1" height="1" fill="#fff"/>
<rect x="475" y="381" width="1" height="1" fill="#fff"/>
<rect x="478" y="383" width="4" height="6" fill="#fff"/>
<rect x="480" y="391" width="1" height="4" fill="#fff"/>
<rect x="479" y="381" width="1" height="1" fill="#fff"/>
<rect x="481" y="381" width="1" height="1" fill="#fff"/>
<rect x="484" y="383" width="4" height="6" fill="#fff"/>
<rect x="486" y="391" width="1" height="4" fill="#fff"/>
<rect x="485" y="381" width="1" height="1" fill="#fff"/>
<rect x="487" y="381" width="1" height="1" fill="#fff"/>
<rect x="490" y="383" width="4" height="6" fill="#fff"/>
<rect x="492" y="391" width="1" height="4" fill="#fff"/>
<rect x="491" y="381" width="1" height="1" fill="#fff"/>
<rect x="493" y="381" width="1" height="1" fill="#fff"/>
<rect x="496" y="383" width="4" height="6" fill="#fff"/>
<rect x="498" y="391" width="1" height="4" fill="#fff"/>
<rect x="497" y="381" width="1" height="1" fill="#fff"/>
<rect x="499" y="381" width="1" height="1" fill="#fff"/>
<rect x="502" y="383" width="4" height="6" fill="#fff"/>
<rect x="504" y="391" width="1" height="4" fill="#fff"/>
<rect x="503" y="381" width="1" height="1" fill="#fff"/>
<rect x="505" y="381" width="1" height="1" fill="#fff"/>
<rect x="334" y="383" width="1" height="6" fill="#fff"/>
<rect x="507" y="383" width="1" height="6" fill="#fff"/>
<rect x="552" y="379" width="227" height="1" fill="#000"/>
<rect x="552" y="397" width="227" height="1" fill="#000"/>
<rect x="552" y="379" width="1" height="19" fill="#000"/>
<rect x="553" y="383" width="8" height="1" fill="#000"/>
<rect x="553" y="390" width="8" height="1" fill="#000"/>
<rect x="561" y="380" width="3" height="17" fill="#000"/>
<rect x="564" y="382" width="10" height="1" fill="#000"/>
<rect x="564" y="382" width="1" height="11" fill="#000"/>
<rect x="573" y="382" width="1" height="10" fill="#000"/>
<rect x="571" y="391" width="3" height="1" fill="#000"/>
<rect x="566" y="389" width="6" height="1" fill="#000"/>
<rect x="566" y="389" width="1" height="4" fill="#000"/>
<rect x="564" y="392" width="3" height="1" fill="#000"/>
<rect x="571" y="389" width="1" height="8" fill="#000"/>
<rect x="778" y="379" width="1" height="19" fill="#000"/>
<rect x="770" y="383" width="8" height="1" fill="#000"/>
<rect x="770" y="390" width="8" height="1" fill="#000"/>
<rect x="771" y="380" width="1" height="17" fill="#000"/>
<rect x="768" y="380" width="2" height="17" fill="#000"/>
<rect x="757" y="382" width="10" height="1" fill="#000"/>
<rect x="766" y="382" width="1" height="11" fill="#000"/>
<rect x="757" y="382" width="1" height="10" fill="#000"/>
<rect x="757" y="391" width="3" height="1" fill="#000"/>
<rect x="759" y="389" width="6" height="1" fill="#000"/>
<rect x="764" y="389" width="1" height="4" fill="#000"/>
<rect x="764" y="392" width="3" height="1" fill="#000"/>
<rect x="759" y="389" width="1" height="8" fill="#000"/>
<rect x="578" y="381" width="176" height="9" fill="#000"/>
<rect x="579" y="390" width="174" height="6" fill="#000"/>
<rect x="582" y="383" width="4" height="6" fill="#fff"/>
<rect x="584" y="391" width="1" height="4" fill="#fff"/>
<rect x="583" y="381" width="1" height="1" fill="#fff"/>
<rect x="585" y="381" width="1" height="1" fill="#fff"/>
<rect x="587" y="383" width="4" height="6" fill="#fff"/>
<rect x="589" y="391" width="1" height="4" fill="#fff"/>
<rect x="588" y="381" width="1" height="1" fill="#fff"/>
<rect x="590" y="381" width="1" height="1" fill="#fff"/>
<rect x="593" y="383" width="4" height="6" fill="#fff"/>
<rect x="595" y="391" width="1" height="4" fill="#fff"/>
<rect x="594" y="381" width="1" height="1" fill="#fff"/>
<rect x="596" y="381" width="1" height="1" fill="#fff"/>
<rect x="599" y="383" width="4" height="6" fill="#fff"/>
<rect x="601" y="391" width="1" height="4" fill="#fff"/>
<rect x="600" y="381" width="1" height="1" fill="#fff"/>
<rect x="602" y="381" width="1" height="1" fill="#fff"/>
<rect x="605" y="383" width="4" height="6" fill="#fff"/>
<rect x="607" y="391" width="1" height="4" fill="#fff"/>
<rect x="606" y="381" width="1" height="1" fill="#fff"/>
<rect x="608" y="381" width="1" height="1" fill="#fff"/>
<rect x="611" y="383" width="4" height="6" fill="#fff"/>
<rect x="613" y="391" width="1" height="4" fill="#fff"/>
<rect x="612" y="381" width="1" height="1" fill="#fff"/>
<rect x="614" y="381" width="1" height="1" fill="#fff"/>
<rect x="617" y="383" width="4" height="6" fill="#fff"/>
<rect x="619" y="391" width="1" height="4" fill="#fff"/>
<rect x="618" y="381" width="1" height="1" fill="#fff"/>
<rect x="620" y="381" width="1" height="1" fill="#fff"/>
<rect x="622" y="383" width="4" height="6" fill="#fff"/>
<rect x="624" y="391" width="1" height="4" fill="#fff"/>
<rect x="623" y="381" width="1" height="1" fill="#fff"/>
<rect x="625" y="381" width="1" height="1" fill="#fff"/>
<rect x="628" y="383" width="4" height="6" fill="#fff"/>
<rect x="630" y="391" width="1" height="4" fill="#fff"/>
<rect x="629" y="381" width="1" height="1" fill="#fff"/>
<rect x="631" y="381" width="1" height="1" fill="#fff"/>
<rect x="634" y="383" width="4" height="6" fill="#fff"/>
<rect x="636" y="391" width="1" height="4" fill="#fff"/>
<rect x="635" y="381" width="1" height="1" fill="#fff"/>
<rect x="637" y="381" width="1" height="1" fill="#fff"/>
<rect x="640" y="383" width="4" height="6" fill="#fff"/>
<rect x="642" y="391" width="1" height="4" fill="#fff"/>
<rect x="641" y="381" width="1" height="1" fill="#fff"/>
<rect x="643" y="381" width="1" height="1" fill="#fff"/>
<rect x="646" y="383" width="4" height="6" fill="#fff"/>
<rect x="648" y="391" width="1" height="4" fill="#fff"/>
<rect x="647" y="381" width="1" height="1" fill="#fff"/>
<rect x="649" y="381" width="1" height="1" fill="#fff"/>
<rect x="652" y="383" width="4" height="6" fill="#fff"/>
<rect x="654" y="391" width="1" height="4" fill="#fff"/>
<rect x="653" y="381" width="1" height="1" fill="#fff"/>
<rect x="655" y="381" width="1" height="1" fill="#fff"/>
<rect x="658" y="383" width="4" height="6" fill="#fff"/>
<rect x="660" y="391" width="1" height="4" fill="#fff"/>
<rect x="659" y="381" width="1" height="1" fill="#fff"/>
<rect x="661" y="381" width="1" height="1" fill="#fff"/>
<rect x="664" y="383" width="4" height="6" fill="#fff"/>
<rect x="666" y="391" width="1" height="4" fill="#fff"/>
<rect x="665" y="381" width="1" height="1" fill="#fff"/>
<rect x="667" y="381" width="1" height="1" fill="#fff"/>
<rect x="669" y="383" width="4" height="6" fill="#fff"/>
<rect x="671" y="391" width="1" height="4" fill="#fff"/>
<rect x="670" y="381" width="1" height="1" fill="#fff"/>
<rect x="672" y="381" width="1" height="1" fill="#fff"/>
<rect x="675" y="383" width="4" height="6" fill="#fff"/>
<rect x="677" y="391" width="1" height="4" fill="#fff"/>
<rect x="676" y="381" width="1" height="1" fill="#fff"/>
<rect x="678" y="381" width="1" height="1" fill="#fff"/>
<rect x="681" y="383" width="4" height="6" fill="#fff"/>
<rect x="683" y="391" width="1" height="4" fill="#fff"/>
<rect x="682" y="381" width="1" height="1" fill="#fff"/>
<rect x="684" y="381" width="1" height="1" fill="#fff"/>
<rect x="687" y="383" width="4" height="6" fill="#fff"/>
<rect x="689" y="391" width="1" height="4" fill="#fff"/>
<rect x="688" y="381" width="1" height="1" fill="#fff"/>
<rect x="690" y="381" width="1" height="1" fill="#fff"/>
<rect x="693" y="383" width="4" height="6" fill="#fff"/>
<rect x="695" y="391" width="1" height="4" fill="#fff"/>
<rect x="694" y="381" width="1" height="1" fill="#fff"/>
<rect x="696" y="381" width="1" height="1" fill="#fff"/>
<rect x="699" y="383" width="4" height="6" fill="#fff"/>
<rect x="701" y="391" width="1" height="4" fill="#fff"/>
<rect x="700" y="381" width="1" height="1" fill="#fff"/>
<rect x="702" y="381" width="1" height="1" fill="#fff"/>
<rect x="705" y="383" width="4" height="6" fill="#fff"/>
<rect x="707" y="391" width="1" height="4" fill="#fff"/>
<rect x="706" y="381" width="1" height="1" fill="#fff"/>
<rect x="708" y="381" width="1" height="1" fill="#fff"/>
<rect x="711" y="383" width="4" height="6" fill="#fff"/>
<rect x="713" y="391" width="1" height="4" fill="#fff"/>
<rect x="712" y="381" width="1" height="1" fill="#fff"/>
<rect x="714" y="381" width="1" height="1" fill="#fff"/>
<rect x="717" y="383" width="4" height="6" fill="#fff"/>
<rect x="719" y="391" width="1" height="4" fill="#fff"/>
<rect x="718" y="381" width="1" height="1" fill="#fff"/>
<rect x="720" y="381" width="1" height="1" fill="#fff"/>
<rect x="723" y="383" width="4" height="6" fill="#fff"/>
<rect x="725" y="391" width="1" height="4" fill="#fff"/>
<rect x="724" y="381" width="1" height="1" fill="#fff"/>
<rect x="726" y="381" width="1" height="1" fill="#fff"/>
<rect x="729" y="383" width="4" height="6" fill="#fff"/>
<rect x="731" y="391" width="1" height="4" fill="#fff"/>
<rect x="730" y="381" width="1" height="1" fill="#fff"/>
<rect x="732" y="381" width="1" height="1" fill="#fff"/>
<rect x="735" y="383" width="4" height="6" fill="#fff"/>
<rect x="737" y="391" width="1" height="4" fill="#fff"/>
<rect x="736" y="381" width="1" height="1" fill="#fff"/>
<rect x="738" y="381" width="1" height="1" fill="#fff"/>
<rect x="741" y="383" width="4" height="6" fill="#fff"/>
<rect x="743" y="391" width="1" height="4" fill="#fff"/>
<rect x="742" y="381" width="1" height="1" fill="#fff"/>
<rect x="744" y="381" width="1" height="1" fill="#fff"/>
<rect x="747" y="383" width="4" height="6" fill="#fff"/>
<rect x="749" y="391" width="1" height="4" fill="#fff"/>
<rect x="748" y="381" width="1" height="1" fill="#fff"/>
<rect x="750" y="381" width="1" height="1" fill="#fff"/>
<rect x="579" y="383" width="1" height="6" fill="#fff"/>
<rect x="752" y="383" width="1" height="6" fill="#fff"/>
<rect x="778" y="379" width="1" height="19" fill="#fff"/>
<rect x="777" y="379" width="1" height="19" fill="#000"/>
<rect x="777" y="383" width="3" height="8" fill="#000"/>
<rect x="777" y="384" width="2" height="6" fill="#fff"/>
<rect x="307" y="399" width="227" height="1" fill="#000"/>
<rect x="307" y="417" width="227" height="1" fill="#000"/>
<rect x="307" y="399" width="1" height="19" fill="#000"/>
<rect x="308" y="403" width="8" height="1" fill="#000"/>
<rect x="308" y="410" width="8" height="1" fill="#000"/>
<rect x="316" y="400" width="3" height="17" fill="#000"/>
<rect x="319" y="402" width="10" height="1" fill="#000"/>
<rect x="319" y="402" width="1" height="11" fill="#000"/>
<rect x="328" y="402" width="1" height="10" fill="#000"/>
<rect x="326" y="411" width="3" height="1" fill="#000"/>
<rect x="321" y="409" width="6" height="1" fill="#000"/>
<rect x="321" y="409" width="1" height="4" fill="#000"/>
<rect x="319" y="412" width="3" height="1" fill="#000"/>
<rect x="326" y="409" width="1" height="8" fill="#000"/>
<rect x="533" y="399" width="1" height="19" fill="#000"/>
<rect x="525" y="403" width="8" height="1" fill="#000"/>
<rect x="525" y="410" width="8" height="1" fill="#000"/>
<rect x="526" y="400" width="1" height="17" fill="#000"/>
<rect x="523" y="400" width="2" height="17" fill="#000"/>
<rect x="512" y="402" width="10" height="1" fill="#000"/>
<rect x="521" y="402" width="1" height="11" fill="#000"/>
<rect x="512" y="402" width="1" height="10" fill="#000"/>
<rect x="512" y="411" width="3" height="1" fill="#000"/>
<rect x="514" y="409" width="6" height="1" fill="#000"/>
<rect x="519" y="409" width="1" height="4" fill="#000"/>
<rect x="519" y="412" width="3" height="1" fill="#000"/>
<rect x="514" y="409" width="1" height="8" fill="#000"/>
<rect x="333" y="401" width="176" height="9" fill="#000"/>
<rect x="334" y="410" width="174" height="6" fill="#000"/>
<rect x="337" y="403" width="4" height="6" fill="#fff"/>
<rect x="339" y="411" width="1" height="4" fill="#fff"/>
<rect x="338" y="401" width="1" height="1" fill="#fff"/>
<rect x="340" y="401" width="1" height="1" fill="#fff"/>
<rect x="342" y="403" width="4" height="6" fill="#fff"/>
<rect x="344" y="411" width="1" height="4" fill="#fff"/>
<rect x="343" y="401" width="1" height="1" fill="#fff"/>
<rect x="345" y="401" width="1" height="1" fill="#fff"/>
<rect x="348" y="403" width="4" height="6" fill="#fff"/>
<rect x="350" y="411" width="1" height="4" fill="#fff"/>
<rect x="349" y="401" width="1" height="1" fill="#fff"/>
<rect x="351" y="401" width="1" height="1" fill="#fff"/>
<rect x="354" y="403" width="4" height="6" fill="#fff"/>
<rect x="356" y="411" width="1" height="4" fill="#fff"/>
<rect x="355" y="401" width="1" height="1" fill="#fff"/>
<rect x="357" y="401" width="1" height="1" fill="#fff"/>
<rect x="360" y="403" width="4" height="6" fill="#fff"/>
<rect x="362" y="411" width="1" height="4" fill="#fff"/>
<rect x="361" y="401" width="1" height="1" fill="#fff"/>
<rect x="363" y="401" width="1" height="1" fill="#fff"/>
<rect x="366" y="403" width="4" height="6" fill="#fff"/>
<rect x="368" y="411" width="1" height="4" fill="#fff"/>
<rect x="367" y="401" width="1" height="1" fill="#fff"/>
<rect x="369" y="401" width="1" height="1" fill="#fff"/>
<rect x="372" y="403" width="4" height="6" fill="#fff"/>
<rect x="374" y="411" width="1" height="4" fill="#fff"/>
<rect x="373" y="401" width="1" height="1" fill="#fff"/>
<rect x="375" y="401" width="1" height="1" fill="#fff"/>
<rect x="377" y="403" width="4" height="6" fill="#fff"/>
<rect x="379" y="411" width="1" height="4" fill="#fff"/>
<rect x="378" y="401" width="1" height="1" fill="#fff"/>
<rect x="380" y="401" width="1" height="1" fill="#fff"/>
<rect x="383" y="403" width="4" height="6" fill="#fff"/>
<rect x="385" y="411" width="1" height="4" fill="#fff"/>
<rect x="384" y="401" width="1" height="1" fill="#fff"/>
<rect x="386" y="401" width="1" height="1" fill="#fff"/>
<rect x="389" y="403" width="4" height="6" fill="#fff"/>
<rect x="391" y="411" width="1" height="4" fill="#fff"/>
<rect x="390" y="401" width="1" height="1" fill="#fff"/>
<rect x="392" y="401" width="1" height="1" fill="#fff"/>
<rect x="395" y="403" width="4" height="6" fill="#fff"/>
<rect x="397" y="411" width="1" height="4" fill="#fff"/>
<rect x="396" y="401" width="1" height="1" fill="#fff"/>
<rect x="398" y="401" width="1" height="1" fill="#fff"/>
<rect x="401" y="403" width="4" height="6" fill="#fff"/>
<rect x="403" y="411" width="1" height="4" fill="#fff"/>
<rect x="402" y="401" width="1" height="1" fill="#fff"/>
<rect x="404" y="401" width="1" height="1" fill="#fff"/>
<rect x="407" y="403" width="4" height="6" fill="#fff"/>
<rect x="409" y="411" width="1" height="4" fill="#fff"/>
<rect x="408" y="401" width="1" height="1" fill="#fff"/>
<rect x="410" y="401" width="1" height="1" fill="#fff"/>
<rect x="413" y="403" width="4" height="6" fill="#fff"/>
<rect x="415" y="411" width="1" height="4" fill="#fff"/>
<rect x="414" y="401" width="1" height="1" fill="#fff"/>
<rect x="416" y="401" width="1" height="1" fill="#fff"/>
<rect x="419" y="403" width="4" height="6" fill="#fff"/>
<rect x="421" y="411" width="1" height="4" fill="#fff"/>
<rect x="420" y="401" width="1" height="1" fill="#fff"/>
<rect x="422" y="401" width="1" height="1" fill="#fff"/>
<rect x="424" y="403" width="4" height="6" fill="#fff"/>
<rect x="426" y="411" width="1" height="4" fill="#fff"/>
<rect x="425" y="401" width="1" height="1" fill="#fff"/>
<rect x="427" y="401" width="1" height="1" fill="#fff"/>
<rect x="430" y="403" width="4" height="6" fill="#fff"/>
<rect x="432" y="411" width="1" height="4" fill="#fff"/>
<rect x="431" y="401" width="1" height="1" fill="#fff"/>
<rect x="433" y="401" width="1" height="1" fill="#fff"/>
<rect x="436" y="403" width="4" height="6" fill="#fff"/>
<rect x="438" y="411" width="1" height="4" fill="#fff"/>
<rect x="437" y="401" width="1" height="1" fill="#fff"/>
<rect x="439" y="401" width="1" height="1" fill="#fff"/>
<rect x="442" y="403" width="4" height="6" fill="#fff"/>
<rect x="444" y="411" width="1" height="4" fill="#fff"/>
<rect x="443" y="401" width="1" height="1" fill="#fff"/>
<rect x="445" y="401" width="1" height="1" fill="#fff"/>
<rect x="448" y="403" width="4" height="6" fill="#fff"/>
<rect x="450" y="411" width="1" height="4" fill="#fff"/>
<rect x="449" y="401" width="1" height="1" fill="#fff"/>
<rect x="451" y="401" width="1" height="1" fill="#fff"/>
<rect x="454" y="403" width="4" height="6" fill="#fff"/>
<rect x="456" y="411" width="1" height="4" fill="#fff"/>
<rect x="455" y="401" width="1" height="1" fill="#fff"/>
<rect x="457" y="401" width="1" height="1" fill="#fff"/>
<rect x="460" y="403" width="4" height="6" fill="#fff"/>
<rect x="462" y="411" width="1" height="4" fill="#fff"/>
<rect x="461" y="401" width="1" height="1" fill="#fff"/>
<rect x="463" y="401" width="1" height="1" fill="#fff"/>
<rect x="466" y="403" width="4" height="6" fill="#fff"/>
<rect x="468" y="411" width="1" height="4" fill="#fff"/>
<rect x="467" y="401" width="1" height="1" fill="#fff"/>
<rect x="469" y="401" width="1" height="1" fill="#fff"/>
<rect x="472" y="403" width="4" height="6" fill="#fff"/>
<rect x="474" y="411" width="1" height="4" fill="#fff"/>
<rect x="473" y="401" width="1" height="1" fill="#fff"/>
<rect x="475" y="401" width="1" height="1" fill="#fff"/>
<rect x="478" y="403" width="4" height="6" fill="#fff"/>
<rect x="480" y="411" width="1" height="4" fill="#fff"/>
<rect x="479" y="401" width="1" height="1" fill="#fff"/>
<rect x="481" y="401" width="1" height="1" fill="#fff"/>
<rect x="484" y="403" width="4" height="6" fill="#fff"/>
<rect x="486" y="411" width="1" height="4" fill="#fff"/>
<rect x="485" y="401" width="1" height="1" fill="#fff"/>
<rect x="487" y="401" width="1" height="1" fill="#fff"/>
<rect x="490" y="403" width="4" height="6" fill="#fff"/>
<rect x="492" y="411" width="1" height="4" fill="#fff"/>
<rect x="491" y="401" width="1" height="1" fill="#fff"/>
<rect x="493" y="401" width="1" height="1" fill="#fff"/>
<rect x="496" y="403" width="4" height="6" fill="#fff"/>
<rect x="498" y="411" width="1" height="4" fill="#fff"/>
<rect x="497" y="401" width="1" height="1" fill="#fff"/>
<rect x="499" y="401" width="1" height="1" fill="#fff"/>
<rect x="502" y="403" width="4" height="6" fill="#fff"/>
<rect x="504" y="411" width="1" height="4" fill="#fff"/>
<rect x="503" y="401" width="1" height="1" fill="#fff"/>
<rect x="505" y="401" width="1" height="1" fill="#fff"/>
<rect x="334" y="403" width="1" height="6" fill="#fff"/>
<rect x="507" y="403" width="1" height="6" fill="#fff"/>
<rect x="552" y="399" width="227" height="1" fill="#000"/>
<rect x="552" y="417" width="227" height="1" fill="#000"/>
<rect x="552" y="399" width="1" height="19" fill="#000"/>
<rect x="553" y="403" width="8" height="1" fill="#000"/>
<rect x="553" y="410" width="8" height="1" fill="#000"/>
<rect x="561" y="400" width="3" height="17" fill="#000"/>
<rect x="564" y="402" width="10" height="1" fill="#000"/>
<rect x="564" y="402" width="1" height="11" fill="#000"/>
<rect x="573" y="402" width="1" height="10" fill="#000"/>
<rect x="571" y="411" width="3" height="1" fill="#000"/>
<rect x="566" y="409" width="6" height="1" fill="#000"/>
<rect x="566" y="409" width="1" height="4" fill="#000"/>
<rect x="564" y="412" width="3" height="1" fill="#000"/>
<rect x="571" y="409" width="1" height="8" fill="#000"/>
<rect x="778" y="399" width="1" height="19" fill="#000"/>
<rect x="770" y="403" width="8" height="1" fill="#000"/>
<rect x="770" y="410" width="8" height="1" fill="#000"/>
<rect x="771" y="400" width="1" height="17" fill="#000"/>
<rect x="768" y="400" width="2" height="17" fill="#000"/>
<rect x="757" y="402" width="10" height="1" fill="#000"/>
<rect x="766" y="402" width="1" height="11" fill="#000"/>
<rect x="757" y="402" width="1" height="10" fill="#000"/>
<rect x="757" y="411" width="3" height="1" fill="#000"/>
<rect x="759" y="409" width="6" height="1" fill="#000"/>
<rect x="764" y="409" width="1" height="4" fill="#000"/>
<rect x="764" y="412" width="3" height="1" fill="#000"/>
<rect x="759" y="409" width="1" height="8" fill="#000"/>
<rect x="578" y="401" width="176" height="9" fill="#000"/>
<rect x="579" y="410" width="174" height="6" fill="#000"/>
<rect x="582" y="403" width="4" height="6" fill="#fff"/>
<rect x="584" y="411" width="1" height="4" fill="#fff"/>
<rect x="583" y="401" width="1" height="1" fill="#fff"/>
<rect x="585" y="401" width="1" height="1" fill="#fff"/>
<rect x="587" y="403" width="4" height="6" fill="#fff"/>
<rect x="589" y="411" width="1" height="4" fill="#fff"/>
<rect x="588" y="401" width="1" height="1" fill="#fff"/>
<rect x="590" y="401" width="1" height="1" fill="#fff"/>
<rect x="593" y="403" width="4" height="6" fill="#fff"/>
<rect x="595" y="411" width="1" height="4" fill="#fff"/>
<rect x="594" y="401" width="1" height="1" fill="#fff"/>
<rect x="596" y="401" width="1" height="1" fill="#fff"/>
<rect x="599" y="403" width="4" height="6" fill="#fff"/>
<rect x="601" y="411" width="1" height="4" fill="#fff"/>
<rect x="600" y="401" width="1" height="1" fill="#fff"/>
<rect x="602" y="401" width="1" height="1" fill="#fff"/>
<rect x="605" y="403" width="4" height="6" fill="#fff"/>
<rect x="607" y="411" width="1" height="4" fill="#fff"/>
<rect x="606" y="401" width="1" height="1" fill="#fff"/>
<rect x="608" y="401" width="1" height="1" fill="#fff"/>
<rect x="611" y="403" width="4" height="6" fill="#fff"/>
<rect x="613" y="411" width="1" height="4" fill="#fff"/>
<rect x="612" y="401" width="1" height="1" fill="#fff"/>
<rect x="614" y="401" width="1" height="1" fill="#fff"/>
<rect x="617" y="403" width="4" height="6" fill="#fff"/>
<rect x="619" y="411" width="1" height="4" fill="#fff"/>
<rect x="618" y="401" width="1" height="1" fill="#fff"/>
<rect x="620" y="401" width="1" height="1" fill="#fff"/>
<rect x="622" y="403" width="4" height="6" fill="#fff"/>
<rect x="624" y="411" width="1" height="4" fill="#fff"/>
<rect x="623" y="401" width="1" height="1" fill="#fff"/>
<rect x="625" y="401" width="1" height="1" fill="#fff"/>
<rect x="628" y="403" width="4" height="6" fill="#fff"/>
<rect x="630" y="411" width="1" height="4" fill="#fff"/>
<rect x="629" y="401" width="1" height="1" fill="#fff"/>
<rect x="631" y="401" width="1" height="1" fill="#fff"/>
<rect x="634" y="403" width="4" height="6" fill="#fff"/>
<rect x="636" y="411" width="1" height="4" fill="#fff"/>
<rect x="635" y="401" width="1" height="1" fill="#fff"/>
<rect x="637" y="401" width="1" height="1" fill="#fff"/>
<rect x="640" y="403" width="4" height="6" fill="#fff"/>
<rect x="642" y="411" width="1" height="4" fill="#fff"/>
<rect x="641" y="401" width="1" height="1" fill="#fff"/>
<rect x="643" y="401" width="1" height="1" fill="#fff"/>
<rect x="646" y="403" width="4" height="6" fill="#fff"/>
<rect x="648" y="411" width="1" height="4" fill="#fff"/>
<rect x="647" y="401" width="1" height="1" fill="#fff"/>
<rect x="649" y="401" width="1" height="1" fill="#fff"/>
<rect x="652" y="403" width="4" height="6" fill="#fff"/>
<rect x="654" y="411" width="1" height="4" fill="#fff"/>
<rect x="653" y="401" width="1" height="1" fill="#fff"/>
<rect x="655" y="401" width="1" height="1" fill="#fff"/>
<rect x="658" y="403" width="4" height="6" fill="#fff"/>
<rect x="660" y="411" width="1" height="4" fill="#fff"/>
<rect x="659" y="401" width="1" height="1" fill="#fff"/>
<rect x="661" y="401" width="1" height="1" fill="#fff"/>
<rect x="664" y="403" width="4" height="6" fill="#fff"/>
<rect x="666" y="411" width="1" height="4" fill="#fff"/>
<rect x="665" y="401" width="1" height="1" fill="#fff"/>
<rect x="667" y="401" width="1" height="1" fill="#fff"/>
<rect x="669" y="403" width="4" height="6" fill="#fff"/>
<rect x="671" y="411" width="1" height="4" fill="#fff"/>
<rect x="670" y="401" width="1" height="1" fill="#fff"/>
<rect x="672" y="401" width="1" height="1" fill="#fff"/>
<rect x="675" y="403" width="4" height="6" fill="#fff"/>
<rect x="677" y="411" width="1" height="4" fill="#fff"/>
<rect x="676" y="401" width="1" height="1" fill="#fff"/>
<rect x="678" y="401" width="1" height="1" fill="#fff"/>
<rect x="681" y="403" width="4" height="6" fill="#fff"/>
<rect x="683" y="411" width="1" height="4" fill="#fff"/>
<rect x="682" y="401" width="1" height="1" fill="#fff"/>
<rect x="684" y="401" width="1" height="1" fill="#fff"/>
<rect x="687" y="403" width="4" height="6" fill="#fff"/>
<rect x="689" y="411" width="1" height="4" fill="#fff"/>
<rect x="688" y="401" width="1" height="1" fill="#fff"/>
<rect x="690" y="401" width="1" height="1" fill="#fff"/>
<rect x="693" y="403" width="4" height="6" fill="#fff"/>
<rect x="695" y="411" width="1" height="4" fill="#fff"/>
<rect x="694" y="401" width="1" height="1" fill="#fff"/>
<rect x="696" y="401" width="1" height="1" fill="#fff"/>
<rect x="699" y="403" width="4" height="6" fill="#fff"/>
<rect x="701" y="411" width="1" height="4" fill="#fff"/>
<rect x="700" y="401" width="1" height="1" fill="#fff"/>
<rect x="702" y="401" width="1" height="1" fill="#fff"/>
<rect x="705" y="403" width="4" height="6" fill="#fff"/>
<rect x="707" y="411" width="1" height="4" fill="#fff"/>
<rect x="706" y="401" width="1" height="1" fill="#fff"/>
<rect x="708" y="401" width="1" height="1" fill="#fff"/>
<rect x="711" y="403" width="4" height="6" fill="#fff"/>
<rect x="713" y="411" width="1" height="4" fill="#fff"/>
<rect x="712" y="401" width="1" height="1" fill="#fff"/>
<rect x="714" y="401" width="1" height="1" fill="#fff"/>
<rect x="717" y="403" width="4" height="6" fill="#fff"/>
<rect x="719" y="411" width="1" height="4" fill="#fff"/>
<rect x="718" y="401" width="1" height="1" fill="#fff"/>
<rect x="720" y="401" width="1" height="1" fill="#fff"/>
<rect x="723" y="403" width="4" height="6" fill="#fff"/>
<rect x="725" y="411" width="1" height="4" fill="#fff"/>
<rect x="724" y="401" width="1" height="1" fill="#fff"/>
<rect x="726" y="401" width="1" height="1" fill="#fff"/>
<rect x="729" y="403" width="4" height="6" fill="#fff"/>
<rect x="731" y="411" width="1" height="4" fill="#fff"/>
<rect x="730" y="401" width="1" height="1" fill="#fff"/>
<rect x="732" y="401" width="1" height="1" fill="#fff"/>
<rect x="735" y="403" width="4" height="6" fill="#fff"/>
<rect x="737" y="411" width="1" height="4" fill="#fff"/>
<rect x="736" y="401" width="1" height="1" fill="#fff"/>
<rect x="738" y="401" width="1" height="1" fill="#fff"/>
<rect x="741" y="403" width="4" height="6" fill="#fff"/>
<rect x="743" y="411" width="1" height="4" fill="#fff"/>
<rect x="742" y="401" width="1" height="1" fill="#fff"/>
<rect x="744" y="401" width="1" height="1" fill="#fff"/>
<rect x="747" y="403" width="4" height="6" fill="#fff"/>
<rect x="749" y="411" width="1" height="4" fill="#fff"/>
<rect x="748" y="401" width="1" height="1" fill="#fff"/>
<rect x="750" y="401" width="1" height="1" fill="#fff"/>
<rect x="579" y="403" width="1" height="6" fill="#fff"/>
<rect x="752" y="403" width="1" height="6" fill="#fff"/>
<rect x="778" y="399" width="1" height="19" fill="#fff"/>
<rect x="777" y="399" width="1" height="19" fill="#000"/>
<rect x="777" y="403" width="3" height="8" fill="#000"/>
<rect x="777" y="404" width="2" height="6" fill="#fff"/>
<rect x="307" y="418" width="227" height="1" fill="#000"/>
<rect x="307" y="436" width="227" height="1" fill="#000"/>
<rect x="307" y="418" width="1" height="19" fill="#000"/>
<rect x="308" y="422" width="8" height="1" fill="#000"/>
<rect x="308" y="429" width="8" height="1" fill="#000"/>
<rect x="316" y="419" width="3" height="17" fill="#000"/>
<rect x="319" y="421" width="10" height="1" fill="#000"/>
<rect x="319" y="421" width="1" height="11" fill="#000"/>
<rect x="328" y="421" width="1" height="10" fill="#000"/>
<rect x="326" y="430" width="3" height="1" fill="#000"/>
<rect x="321" y="428" width="6" height="1" fill="#000"/>
<rect x="321" y="428" width="1" height="4" fill="#000"/>
<rect x="319" y="431" width="3" height="1" fill="#000"/>
<rect x="326" y="428" width="1" height="8" fill="#000"/>
<rect x="533" y="418" width="1" height="19" fill="#000"/>
<rect x="525" y="422" width="8" height="1" fill="#000"/>
<rect x="525" y="429" width="8" height="1" fill="#000"/>
<rect x="526" y="419" width="1" height="17" fill="#000"/>
<rect x="523" y="419" width="2" height="17" fill="#000"/>
<rect x="512" y="421" width="10" height="1" fill="#000"/>
<rect x="521" y="421" width="1" height="11" fill="#000"/>
<rect x="512" y="421" width="1" height="10" fill="#000"/>
<rect x="512" y="430" width="3" height="1" fill="#000"/>
<rect x="514" y="428" width="6" height="1" fill="#000"/>
<rect x="519" y="428" width="1" height="4" fill="#000"/>
<rect x="519" y="431" width="3" height="1" fill="#000"/>
<rect x="514" y="428" width="1" height="8" fill="#000"/>
<rect x="333" y="420" width="176" height="9" fill="#000"/>
<rect x="334" y="429" width="174" height="6" fill="#000"/>
<rect x="337" y="422" width="4" height="6" fill="#fff"/>
<rect x="339" y="430" width="1" height="4" fill="#fff"/>
<rect x="338" y="420" width="1" height="1" fill="#fff"/>
<rect x="340" y="420" width="1" height="1" fill="#fff"/>
<rect x="342" y="422" width="4" height="6" fill="#fff"/>
<rect x="344" y="430" width="1" height="4" fill="#fff"/>
<rect x="343" y="420" width="1" height="1" fill="#fff"/>
<rect x="345" y="420" width="1" height="1" fill="#fff"/>
<rect x="348" y="422" width="4" height="6" fill="#fff"/>
<rect x="350" y="430" width="1" height="4" fill="#fff"/>
<rect x="349" y="420" width="1" height="1" fill="#fff"/>
<rect x="351" y="420" width="1" height="1" fill="#fff"/>
<rect x="354" y="422" width="4" height="6" fill="#fff"/>
<rect x="356" y="430" width="1" height="4" fill="#fff"/>
<rect x="355" y="420" width="1" height="1" fill="#fff"/>
<rect x="357" y="420" width="1" height="1" fill="#fff"/>
<rect x="360" y="422" width="4" height="6" fill="#fff"/>
<rect x="362" y="430" width="1" height="4" fill="#fff"/>
<rect x="361" y="420" width="1" height="1" fill="#fff"/>
<rect x="363" y="420" width="1" height="1" fill="#fff"/>
<rect x="366" y="422" width="4" height="6" fill="#fff"/>
<rect x="368" y="430" width="1" height="4" fill="#fff"/>
<rect x="367" y="420" width="1" height="1" fill="#fff"/>
<rect x="369" y="420" width="1" height="1" fill="#fff"/>
<rect x="372" y="422" width="4" height="6" fill="#fff"/>
<rect x="374" y="430" width="1" height="4" fill="#fff"/>
<rect x="373" y="420" width="1" height="1" fill="#fff"/>
<rect x="375" y="420" width="1" height="1" fill="#fff"/>
<rect x="377" y="422" width="4" height="6" fill="#fff"/>
<rect x="379" y="430" width="1" height="4" fill="#fff"/>
<rect x="378" y="420" width="1" height="1" fill="#fff"/>
<rect x="380" y="420" width="1" height="1" fill="#fff"/>
<rect x="383" y="422" width="4" height="6" fill="#fff"/>
<rect x="385" y="430" width="1" height="4" fill="#fff"/>
<rect x="384" y="420" width="1" height="1" fill="#fff"/>
<rect x="386" y="420" width="1" height="1" fill="#fff"/>
<rect x="389" y="422" width="4" height="6" fill="#fff"/>
<rect x="391" y="430" width="1" height="4" fill="#fff"/>
<rect x="390" y="420" width="1" height="1" fill="#fff"/>
<rect x="392" y="420" width="1" height="1" fill="#fff"/>
<rect x="395" y="422" width="4" height="6" fill="#fff"/>
<rect x="397" y="430" width="1" height="4" fill="#fff"/>
<rect x="396" y="420" width="1" height="1" fill="#fff"/>
<rect x="398" y="420" width="1" height="1" fill="#fff"/>
<rect x="401" y="422" width="4" height="6" fill="#fff"/>
<rect x="403" y="430" width="1" height="4" fill="#fff"/>
<rect x="402" y="420" width="1" height="1" fill="#fff"/>
<rect x="404" y="420" width="1" height="1" fill="#fff"/>
<rect x="407" y="422" width="4" height="6" fill="#fff"/>
<rect x="409" y="430" width="1" height="4" fill="#fff"/>
<rect x="408" y="420" width="1" height="1" fill="#fff"/>
<rect x="410" y="420" width="1" height="1" fill="#fff"/>
<rect x="413" y="422" width="4" height="6" fill="#fff"/>
<rect x="415" y="430" width="1" height="4" fill="#fff"/>
<rect x="414" y="420" width="1" height="1" fill="#fff"/>
<rect x="416" y="420" width="1" height="1" fill="#fff"/>
<rect x="419" y="422" width="4" height="6" fill="#fff"/>
<rect x="421" y="430" width="1" height="4" fill="#fff"/>
<rect x="420" y="420" width="1" height="1" fill="#fff"/>
<rect x="422" y="420" width="1" height="1" fill="#fff"/>
<rect x="424" y="422" width="4" height="6" fill="#fff"/>
<rect x="426" y="430" width="1" height="4" fill="#fff"/>
<rect x="425" y="420" width="1" height="1" fill="#fff"/>
<rect x="427" y="420" width="1" height="1" fill="#fff"/>
<rect x="430" y="422" width="4" height="6" fill="#fff"/>
<rect x="432" y="430" width="1" height="4" fill="#fff"/>
<rect x="431" y="420" width="1" height="1" fill="#fff"/>
<rect x="433" y="420" width="1" height="1" fill="#fff"/>
<rect x="436" y="422" width="4" height="6" fill="#fff"/>
<rect x="438" y="430" width="1" height="4" fill="#fff"/>
<rect x="437" y="420" width="1" height="1" fill="#fff"/>
<rect x="439" y="420" width="1" height="1" fill="#fff"/>
<rect x="442" y="422" width="4" height="6" fill="#fff"/>
<rect x="444" y="430" width="1" height="4" fill="#fff"/>
<rect x="443" y="420" width="1" height="1" fill="#fff"/>
<rect x="445" y="420" width="1" height="1" fill="#fff"/>
<rect x="448" y="422" width="4" height="6" fill="#fff"/>
<rect x="450" y="430" width="1" height="4" fill="#fff"/>
<rect x="449" y="420" width="1" height="1" fill="#fff"/>
<rect x="451" y="420" width="1" height="1" fill="#fff"/>
<rect x="454" y="422" width="4" height="6" fill="#fff"/>
<rect x="456" y="430" width="1" height="4" fill="#fff"/>
<rect x="455" y="420" width="1" height="1" fill="#fff"/>
<rect x="457" y="420" width="1" height="1" fill="#fff"/>
<rect x="460" y="422" width="4" height="6" fill="#fff"/>
<rect x="462" y="430" width="1" height="4" fill="#fff"/>
<rect x="461" y="420" width="1" height="1" fill="#fff"/>
<rect x="463" y="420" width="1" height="1" fill="#fff"/>
<rect x="466" y="422" width="4" height="6" fill="#fff"/>
<rect x="468" y="430" width="1" height="4" fill="#fff"/>
<rect x="467" y="420" width="1" height="1" fill="#fff"/>
<rect x="469" y="420" width="1" height="1" fill="#fff"/>
<rect x="472" y="422" width="4" height="6" fill="#fff"/>
<rect x="474" y="430" width="1" height="4" fill="#fff"/>
<rect x="473" y="420" width="1" height="1" fill="#fff"/>
<rect x="475" y="420" width="1" height="1" fill="#fff"/>
<rect x="478" y="422" width="4" height="6" fill="#fff"/>
<rect x="480" y="430" width="1" height="4" fill="#fff"/>
<rect x="479" y="420" width="1" height="1" fill="#fff"/>
<rect x="481" y="420" width="1" height="1" fill="#fff"/>
<rect x="484" y="422" width="4" height="6" fill="#fff"/>
<rect x="486" y="430" width="1" height="4" fill="#fff"/>
<rect x="485" y="420" width="1" height="1" fill="#fff"/>
<rect x="487" y="420" width="1" height="1" fill="#fff"/>
<rect x="490" y="422" width="4" height="6" fill="#fff"/>
<rect x="492" y="430" width="1" height="4" fill="#fff"/>
<rect x="491" y="420" width="1" height="1" fill="#fff"/>
<rect x="493" y="420" width="1" height="1" fill="#fff"/>
<rect x="496" y="422" width="4" height="6" fill="#fff"/>
<rect x="498" y="430" width="1" height="4" fill="#fff"/>
<rect x="497" y="420" width="1" height="1" fill="#fff"/>
<rect x="499" y="420" width="1" height="1" fill="#fff"/>
<rect x="502" y="422" width="4" height="6" fill="#fff"/>
<rect x="504" y="430" width="1" height="4" fill="#fff"/>
<rect x="503" y="420" width="1" height="1" fill="#fff"/>
<rect x="505" y="420" width="1" height="1" fill="#fff"/>
<rect x="334" y="422" width="1" height="6" fill="#fff"/>
<rect x="507" y="422" width="1" height="6" fill="#fff"/>
<rect x="552" y="418" width="227" height="1" fill="#000"/>
<rect x="552" y="436" width="227" height="1" fill="#000"/>
<rect x="552" y="418" width="1" height="19" fill="#000"/>
<rect x="553" y="422" width="8" height="1" fill="#000"/>
<rect x="553" y="429" width="8" height="1" fill="#000"/>
<rect x="561" y="419" width="3" height="17" fill="#000"/>
<rect x="564" y="421" width="10" height="1" fill="#000"/>
<rect x="564" y="421" width="1" height="11" fill="#000"/>
<rect x="573" y="421" width="1" height="10" fill="#000"/>
<rect x="571" y="430" width="3" height="1" fill="#000"/>
<rect x="566" y="428" width="6" height="1" fill="#000"/>
<rect x="566" y="428" width="1" height="4" fill="#000"/>
<rect x="564" y="431" width="3" height="1" fill="#000"/>
<rect x="571" y="428" width="1" height="8" fill="#000"/>
<rect x="778" y="418" width="1" height="19" fill="#000"/>
<rect x="770" y="422" width="8" height="1" fill="#000"/>
<rect x="770" y="429" width="8" height="1" fill="#000"/>
<rect x="771" y="419" width="1" height="17" fill="#000"/>
<rect x="768" y="419" width="2" height="17" fill="#000"/>
<rect x="757" y="421" width="10" height="1" fill="#000"/>
<rect x="766" y="421" width="1" height="11" fill="#000"/>
<rect x="757" y="421" width="1" height="10" fill="#000"/>
<rect x="757" y="430" width="3" height="1" fill="#000"/>
<rect x="759" y="428" width="6" height="1" fill="#000"/>
<rect x="764" y="428" width="1" height="4" fill="#000"/>
<rect x="764" y="431" width="3" height="1" fill="#000"/>
<rect x="759" y="428" width="1" height="8" fill="#000"/>
<rect x="578" y="420" width="176" height="9" fill="#000"/>
<rect x="579" y="429" width="174" height="6" fill="#000"/>
<rect x="582" y="422" width="4" height="6" fill="#fff"/>
<rect x="584" y="430" width="1" height="4" fill="#fff"/>
<rect x="583" y="420" width="1" height="1" fill="#fff"/>
<rect x="585" y="420" width="1" height="1" fill="#fff"/>
<rect x="587" y="422" width="4" height="6" fill="#fff"/>
<rect x="589" y="430" width="1" height="4" fill="#fff"/>
<rect x="588" y="420" width="1" height="1" fill="#fff"/>
<rect x="590" y="420" width="1" height="1" fill="#fff"/>
<rect x="593" y="422" width="4" height="6" fill="#fff"/>
<rect x="595" y="430" width="1" height="4" fill="#fff"/>
<rect x="594" y="420" width="1" height="1" fill="#fff"/>
<rect x="596" y="420" width="1" height="1" fill="#fff"/>
<rect x="599" y="422" width="4" height="6" fill="#fff"/>
<rect x="601" y="430" width="1" height="4" fill="#fff"/>
<rect x="600" y="420" width="1" height="1" fill="#fff"/>
<rect x="602" y="420" width="1" height="1" fill="#fff"/>
<rect x="605" y="422" width="4" height="6" fill="#fff"/>
<rect x="607" y="430" width="1" height="4" fill="#fff"/>
<rect x="606" y="420" width="1" height="1" fill="#fff"/>
<rect x="608" y="420" width="1" height="1" fill="#fff"/>
<rect x="611" y="422" width="4" height="6" fill="#fff"/>
<rect x="613" y="430" width="1" height="4" fill="#fff"/>
<rect x="612" y="420" width="1" height="1" fill="#fff"/>
<rect x="614" y="420" width="1" height="1" fill="#fff"/>
<rect x="617" y="422" width="4" height="6" fill="#fff"/>
<rect x="619" y="430" width="1" height="4" fill="#fff"/>
<rect x="618" y="420" width="1" height="1" fill="#fff"/>
<rect x="620" y="420" width="1" height="1" fill="#fff"/>
<rect x="622" y="422" width="4" height="6" fill="#fff"/>
<rect x="624" y="430" width="1" height="4" fill="#fff"/>
<rect x="623" y="420" width="1" height="1" fill="#fff"/>
<rect x="625" y="420" width="1" height="1" fill="#fff"/>
<rect x="628" y="422" width="4" height="6" fill="#fff"/>
<rect x="630" y="430" width="1" height="4" fill="#fff"/>
<rect x="629" y="420" width="1" height="1" fill="#fff"/>
<rect x="631" y="420" width="1" height="1" fill="#fff"/>
<rect x="634" y="422" width="4" height="6" fill="#fff"/>
<rect x="636" y="430" width="1" height="4" fill="#fff"/>
<rect x="635" y="420" width="1" height="1" fill="#fff"/>
<rect x="637" y="420" width="1" height="1" fill="#fff"/>
<rect x="640" y="422" width="4" height="6" fill="#fff"/>
<rect x="642" y="430" width="1" height="4" fill="#fff"/>
<rect x="641" y="420" width="1" height="1" fill="#fff"/>
<rect x="643" y="420" width="1" height="1" fill="#fff"/>
<rect x="646" y="422" width="4" height="6" fill="#fff"/>
<rect x="648" y="430" width="1" height="4" fill="#fff"/>
<rect x="647" y="420" width="1" height="1" fill="#fff"/>
<rect x="649" y="420" width="1" height="1" fill="#fff"/>
<rect x="652" y="422" width="4" height="6" fill="#fff"/>
<rect x="654" y="430" width="1" height="4" fill="#fff"/>
<rect x="653" y="420" width="1" height="1" fill="#fff"/>
<rect x="655" y="420" width="1" height="1" fill="#fff"/>
<rect x="658" y="422" width="4" height="6" fill="#fff"/>
<rect x="660" y="430" width="1" height="4" fill="#fff"/>
<rect x="659" y="420" width="1" height="1" fill="#fff"/>
<rect x="661" y="420" width="1" height="1" fill="#fff"/>
<rect x="664" y="422" width="4" height="6" fill="#fff"/>
<rect x="666" y="430" width="1" height="4" fill="#fff"/>
<rect x="665" y="420" width="1" height="1" fill="#fff"/>
<rect x="667" y="420" width="1" height="1" fill="#fff"/>
<rect x="669" y="422" width="4" height="6" fill="#fff"/>
<rect x="671" y="430" width="1" height="4" fill="#fff"/>
<rect x="670" y="420" width="1" height="1" fill="#fff"/>
<rect x="672" y="420" width="1" height="1" fill="#fff"/>
<rect x="675" y="422" width="4" height="6" fill="#fff"/>
<rect x="677" y="430" width="1" height="4" fill="#fff"/>
<rect x="676" y="420" width="1" height="1" fill="#fff"/>
<rect x="678" y="420" width="1" height="1" fill="#fff"/>
<rect x="681" y="422" width="4" height="6" fill="#fff"/>
<rect x="683" y="430" width="1" height="4" fill="#fff"/>
<rect x="682" y="420" width="1" height="1" fill="#fff"/>
<rect x="684" y="420" width="1" height="1" fill="#fff"/>
<rect x="687" y="422" width="4" height="6" fill="#fff"/>
<rect x="689" y="430" width="1" height="4" fill="#fff"/>
<rect x="688" y="420" width="1" height="1" fill="#fff"/>
<rect x="690" y="420" width="1" height="1" fill="#fff"/>
<rect x="693" y="422" width="4" height="6" fill="#fff"/>
<rect x="695" y="430" width="1" height="4" fill="#fff"/>
<rect x="694" y="420" width="1" height="1" fill="#fff"/>
<rect x="696" y="420" width="1" height="1" fill="#fff"/>
<rect x="699" y="422" width="4" height="6" fill="#fff"/>
<rect x="701" y="430" width="1" height="4" fill="#fff"/>
<rect x="700" y="420" width="1" height="1" fill="#fff"/>
<rect x="702" y="420" width="1" height="1" fill="#fff"/>
<rect x="705" y="422" width="4" height="6" fill="#fff"/>
<rect x="707" y="430" width="1" height="4" fill="#fff"/>
<rect x="706" y="420" width="1" height="1" fill="#fff"/>
<rect x="708" y="420" width="1" height="1" fill="#fff"/>
<rect x="711" y="422" width="4" height="6" fill="#fff"/>
<rect x="713" y="430" width="1" height="4" fill="#fff"/>
<rect x="712" y="420" width="1" height="1" fill="#fff"/>
<rect x="714" y="420" width="1" height="1" fill="#fff"/>
<rect x="717" y="422" width="4" height="6" fill="#fff"/>
<rect x="719" y="430" width="1" height="4" fill="#fff"/>
<rect x="718" y="420" width="1" height="1" fill="#fff"/>
<rect x="720" y="420" width="1" height="1" fill="#fff"/>
<rect x="723" y="422" width="4" height="6" fill="#fff"/>
<rect x="725" y="430" width="1" height="4" fill="#fff"/>
<rect x="724" y="420" width="1" height="1" fill="#fff"/>
<rect x="726" y="420" width="1" height="1" fill="#fff"/>
<rect x="729" y="422" width="4" height="6" fill="#fff"/>
<rect x="731" y="430" width="1" height="4" fill="#fff"/>
<rect x="730" y="420" width="1" height="1" fill="#fff"/>
<rect x="732" y="420" width="1" height="1" fill="#fff"/>
<rect x="735" y="422" width="4" height="6" fill="#fff"/>
<rect x="737" y="430" width="1" height="4" fill="#fff"/>
<rect x="736" y="420" width="1" height="1" fill="#fff"/>
<rect x="738" y="420" width="1" height="1" fill="#fff"/>
<rect x="741" y="422" width="4" height="6" fill="#fff"/>
<rect x="743" y="430" width="1" height="4" fill="#fff"/>
<rect x="742" y="420" width="1" height="1" fill="#fff"/>
<rect x="744" y="420" width="1" height="1" fill="#fff"/>
<rect x="747" y="422" width="4" height="6" fill="#fff"/>
<rect x="749" y="430" width="1" height="4" fill="#fff"/>
<rect x="748" y="420" width="1" height="1" fill="#fff"/>
<rect x="750" y="420" width="1" height="1" fill="#fff"/>
<rect x="579" y="422" width="1" height="6" fill="#fff"/>
<rect x="752" y="422" width="1" height="6" fill="#fff"/>
<rect x="778" y="418" width="1" height="19" fill="#fff"/>
<rect x="777" y="418" width="1" height="19" fill="#000"/>
<rect x="777" y="422" width="3" height="8" fill="#000"/>
<rect x="777" y="423" width="2" height="6" fill="#fff"/>
<rect x="388" y="372" width="59" height="18" fill="#000"/>
<rect x="390" y="374" width="55" height="14" rx="1.5" fill="#fff" shape-rendering="geometricPrecision"/>
<rect x="386" y="409" width="60" height="18" fill="#000"/>
<rect x="388" y="411" width="56" height="14" rx="1.5" fill="#fff" shape-rendering="geometricPrecision"/>
<rect x="635" y="374" width="60" height="18" fill="#000"/>
<rect x="637" y="376" width="56" height="14" rx="1.5" fill="#fff" shape-rendering="geometricPrecision"/>
<rect x="635" y="410" width="61" height="19" fill="#000"/>
<rect x="637" y="412" width="57" height="15" rx="1.5" fill="#fff" shape-rendering="geometricPrecision"/>
<rect x="254" y="451" width="127" height="43" fill="#000"/>
<rect x="379" y="468" width="2" height="10" fill="#fff"/>
<rect x="380" y="467" width="1" height="12" fill="#fff"/>
<rect x="303" y="466" width="29" height="14" rx="2" fill="#fff" shape-rendering="geometricPrecision"/>
<rect x="233" y="500" width="36" height="18" rx="3" fill="#000" shape-rendering="geometricPrecision"/>
<rect x="235" y="502.5" width="32" height="13.5" rx="1.2" fill="#fff" shape-rendering="geometricPrecision"/>
<polygon points="267.50,513.00 281.00,510.50 285.00,510.50 285.00,508.50 281.00,508.50 267.50,506.00" fill="#000" shape-rendering="geometricPrecision"/>
<polygon points="265.50,510.50 277.00,509.50 265.50,508.50" fill="#fff" shape-rendering="geometricPrecision"/>
<rect x="285" y="506" width="19" height="7" fill="#000"/>
<rect x="286" y="507" width="17" height="1" fill="#fff"/>
<rect x="286" y="507" width="1" height="5" fill="#fff"/>
<rect x="290" y="507" width="1" height="5" fill="#fff"/>
<rect x="297" y="507" width="1" height="5" fill="#fff"/>
<rect x="288" y="509" width="1" height="2" fill="#fff"/>
<rect x="548" y="477" width="7" height="18" fill="#000"/>
<rect x="549" y="483" width="5" height="1" fill="#fff"/>
<rect x="549" y="489" width="5" height="1" fill="#fff"/>
<rect x="550" y="491" width="3" height="3" fill="#fff"/>
<rect x="548" y="497" width="7" height="19" fill="#000"/>
<rect x="549" y="498" width="5" height="17" fill="#fff"/>
<rect x="549" y="499" width="4" height="4" fill="#000"/>
<rect x="550" y="500" width="2" height="2" fill="#fff"/>
<rect x="549" y="504" width="4" height="5" fill="#000"/>
<rect x="549" y="510" width="4" height="5" fill="#000"/>
<rect x="569" y="478" width="35.5" height="17.69999999999999" rx="3" fill="#000" shape-rendering="geometricPrecision"/>
<rect x="571" y="480.5" width="31.5" height="12.699999999999989" rx="1.2" fill="#fff" shape-rendering="geometricPrecision"/>
<polygon points="570.64,482.56 558.54,485.13 555.04,485.00 554.96,487.00 558.46,487.12 570.36,490.55" fill="#000" shape-rendering="geometricPrecision"/>
<polygon points="572.52,485.88 562.00,486.25 572.47,487.37" fill="#fff" shape-rendering="geometricPrecision"/>
<rect x="569" y="497.6" width="36.5" height="18.199999999999932" rx="3" fill="#000" shape-rendering="geometricPrecision"/>
<rect x="571" y="500.1" width="32.5" height="13.199999999999932" rx="1.2" fill="#fff" shape-rendering="geometricPrecision"/>
<polygon points="570.64,502.56 558.54,505.13 555.04,505.00 554.96,507.00 558.46,507.12 570.36,510.55" fill="#000" shape-rendering="geometricPrecision"/>
<polygon points="572.52,505.88 562.00,506.25 572.47,507.37" fill="#fff" shape-rendering="geometricPrecision"/>
<path d="M610,472.5 L628,472.5 Q632,473 632.5,477 Q630.5,479 630.5,482 L630.5,489 Q632.5,491 632.5,493 Q630.5,495 630.5,497 L630.5,505 Q632.5,507 632.5,508.5 Q631,512.5 628,512.5 L610,512.5 Q606,512 605.5,508 Q607.5,505 607.5,500 Q607.5,495 605.5,492 Q607.5,489 607.5,485 Q607.5,480 605.5,477 Q606,473 610,472.5 Z" fill="none" stroke="#000" stroke-width="1" shape-rendering="geometricPrecision"/>
<rect x="646" y="455" width="34" height="19" rx="3" fill="#000" shape-rendering="geometricPrecision"/>
<rect x="648.5" y="457.5" width="29.5" height="14.0" rx="1.2" fill="#fff" shape-rendering="geometricPrecision"/>
<polygon points="659.00,472.50 662.00,486.00 662.00,490.00 664.00,490.00 664.00,486.00 667.00,472.50" fill="#000" shape-rendering="geometricPrecision"/>
<polygon points="662.00,470.50 663.00,479.60 664.00,470.50" fill="#fff" shape-rendering="geometricPrecision"/>
<rect x="660" y="490" width="6" height="26" fill="#000"/>
<rect x="661" y="491" width="4" height="6" fill="#fff"/>
<rect x="662" y="493" width="2" height="2" fill="#000"/>
<rect x="661" y="502" width="4" height="1" fill="#fff"/>
<rect x="661" y="508" width="4" height="1" fill="#fff"/>
<rect x="661" y="513" width="4" height="2" fill="#fff"/>
<rect x="649" y="502" width="6" height="13" fill="#000"/>
<rect x="650" y="508" width="4" height="1" fill="#fff"/>
<rect x="650" y="512" width="4" height="2" fill="#fff"/>
<rect x="634.6" y="531" width="32.60000000000002" height="18.799999999999955" rx="3" fill="#000" shape-rendering="geometricPrecision"/>
<rect x="636.6" y="533.5" width="28.600000000000023" height="14.299999999999955" rx="1.2" fill="#fff" shape-rendering="geometricPrecision"/>
<polygon points="656.00,532.50 653.00,519.00 653.00,515.00 651.00,515.00 651.00,519.00 648.00,532.50" fill="#000" shape-rendering="geometricPrecision"/>
<polygon points="653.00,534.50 652.00,525.40 651.00,534.50" fill="#fff" shape-rendering="geometricPrecision"/>
<rect x="670" y="490" width="113" height="1" fill="#000"/>
<rect x="670" y="513" width="113" height="1" fill="#000"/>
<rect x="670" y="490" width="1" height="24" fill="#000"/>
<rect x="782" y="490" width="1" height="24" fill="#000"/>
<rect x="671" y="497" width="111" height="1" fill="#000"/>
<rect x="674" y="493" width="4" height="4" fill="#000"/>
<rect x="672" y="494" width="8" height="2" fill="#000"/>
<rect x="672" y="499" width="8" height="1" fill="#000"/>
<rect x="672" y="502" width="8" height="1" fill="#000"/>
<rect x="672" y="499" width="1" height="4" fill="#000"/>
<rect x="679" y="499" width="1" height="4" fill="#000"/>
<rect x="672" y="499" width="1" height="1" fill="#fff"/>
<rect x="679" y="499" width="1" height="1" fill="#fff"/>
<rect x="672" y="502" width="1" height="1" fill="#fff"/>
<rect x="679" y="502" width="1" height="1" fill="#fff"/>
<rect x="683" y="493" width="4" height="4" fill="#000"/>
<rect x="681" y="494" width="8" height="2" fill="#000"/>
<rect x="681" y="499" width="8" height="1" fill="#000"/>
<rect x="681" y="502" width="8" height="1" fill="#000"/>
<rect x="681" y="499" width="1" height="4" fill="#000"/>
<rect x="688" y="499" width="1" height="4" fill="#000"/>
<rect x="681" y="499" width="1" height="1" fill="#fff"/>
<rect x="688" y="499" width="1" height="1" fill="#fff"/>
<rect x="681" y="502" width="1" height="1" fill="#fff"/>
<rect x="688" y="502" width="1" height="1" fill="#fff"/>
<rect x="692" y="493" width="4" height="4" fill="#000"/>
<rect x="690" y="494" width="8" height="2" fill="#000"/>
<rect x="690" y="499" width="8" height="1" fill="#000"/>
<rect x="690" y="502" width="8" height="1" fill="#000"/>
<rect x="690" y="499" width="1" height="4" fill="#000"/>
<rect x="697" y="499" width="1" height="4" fill="#000"/>
<rect x="690" y="499" width="1" height="1" fill="#fff"/>
<rect x="697" y="499" width="1" height="1" fill="#fff"/>
<rect x="690" y="502" width="1" height="1" fill="#fff"/>
<rect x="697" y="502" width="1" height="1" fill="#fff"/>
<rect x="702" y="493" width="4" height="4" fill="#000"/>
<rect x="700" y="494" width="8" height="2" fill="#000"/>
<rect x="700" y="499" width="8" height="1" fill="#000"/>
<rect x="700" y="502" width="8" height="1" fill="#000"/>
<rect x="700" y="499" width="1" height="4" fill="#000"/>
<rect x="707" y="499" width="1" height="4" fill="#000"/>
<rect x="700" y="499" width="1" height="1" fill="#fff"/>
<rect x="707" y="499" width="1" height="1" fill="#fff"/>
<rect x="700" y="502" width="1" height="1" fill="#fff"/>
<rect x="707" y="502" width="1" height="1" fill="#fff"/>
<rect x="711" y="493" width="4" height="4" fill="#000"/>
<rect x="709" y="494" width="8" height="2" fill="#000"/>
<rect x="709" y="499" width="8" height="1" fill="#000"/>
<rect x="709" y="502" width="8" height="1" fill="#000"/>
<rect x="709" y="499" width="1" height="4" fill="#000"/>
<rect x="716" y="499" width="1" height="4" fill="#000"/>
<rect x="709" y="499" width="1" height="1" fill="#fff"/>
<rect x="716" y="499" width="1" height="1" fill="#fff"/>
<rect x="709" y="502" width="1" height="1" fill="#fff"/>
<rect x="716" y="502" width="1" height="1" fill="#fff"/>
<rect x="720" y="493" width="4" height="4" fill="#000"/>
<rect x="718" y="494" width="8" height="2" fill="#000"/>
<rect x="718" y="499" width="8" height="1" fill="#000"/>
<rect x="718" y="502" width="8" height="1" fill="#000"/>
<rect x="718" y="499" width="1" height="4" fill="#000"/>
<rect x="725" y="499" width="1" height="4" fill="#000"/>
<rect x="718" y="499" width="1" height="1" fill="#fff"/>
<rect x="725" y="499" width="1" height="1" fill="#fff"/>
<rect x="718" y="502" width="1" height="1" fill="#fff"/>
<rect x="725" y="502" width="1" height="1" fill="#fff"/>
<rect x="729" y="493" width="4" height="4" fill="#000"/>
<rect x="727" y="494" width="8" height="2" fill="#000"/>
<rect x="727" y="499" width="8" height="1" fill="#000"/>
<rect x="727" y="502" width="8" height="1" fill="#000"/>
<rect x="727" y="499" width="1" height="4" fill="#000"/>
<rect x="734" y="499" width="1" height="4" fill="#000"/>
<rect x="727" y="499" width="1" height="1" fill="#fff"/>
<rect x="734" y="499" width="1" height="1" fill="#fff"/>
<rect x="727" y="502" width="1" height="1" fill="#fff"/>
<rect x="734" y="502" width="1" height="1" fill="#fff"/>
<rect x="738" y="493" width="4" height="4" fill="#000"/>
<rect x="736" y="494" width="8" height="2" fill="#000"/>
<rect x="736" y="499" width="8" height="1" fill="#000"/>
<rect x="736" y="502" width="8" height="1" fill="#000"/>
<rect x="736" y="499" width="1" height="4" fill="#000"/>
<rect x="743" y="499" width="1" height="4" fill="#000"/>
<rect x="736" y="499" width="1" height="1" fill="#fff"/>
<rect x="743" y="499" width="1" height="1" fill="#fff"/>
<rect x="736" y="502" width="1" height="1" fill="#fff"/>
<rect x="743" y="502" width="1" height="1" fill="#fff"/>
<rect x="748" y="493" width="4" height="4" fill="#000"/>
<rect x="746" y="494" width="8" height="2" fill="#000"/>
<rect x="746" y="499" width="8" height="1" fill="#000"/>
<rect x="746" y="502" width="8" height="1" fill="#000"/>
<rect x="746" y="499" width="1" height="4" fill="#000"/>
<rect x="753" y="499" width="1" height="4" fill="#000"/>
<rect x="746" y="499" width="1" height="1" fill="#fff"/>
<rect x="753" y="499" width="1" height="1" fill="#fff"/>
<rect x="746" y="502" width="1" height="1" fill="#fff"/>
<rect x="753" y="502" width="1" height="1" fill="#fff"/>
<rect x="757" y="493" width="4" height="4" fill="#000"/>
<rect x="755" y="494" width="8" height="2" fill="#000"/>
<rect x="755" y="499" width="8" height="1" fill="#000"/>
<rect x="755" y="502" width="8" height="1" fill="#000"/>
<rect x="755" y="499" width="1" height="4" fill="#000"/>
<rect x="762" y="499" width="1" height="4" fill="#000"/>
<rect x="755" y="499" width="1" height="1" fill="#fff"/>
<rect x="762" y="499" width="1" height="1" fill="#fff"/>
<rect x="755" y="502" width="1" height="1" fill="#fff"/>
<rect x="762" y="502" width="1" height="1" fill="#fff"/>
<rect x="766" y="493" width="4" height="4" fill="#000"/>
<rect x="764" y="494" width="8" height="2" fill="#000"/>
<rect x="764" y="499" width="8" height="1" fill="#000"/>
<rect x="764" y="502" width="8" height="1" fill="#000"/>
<rect x="764" y="499" width="1" height="4" fill="#000"/>
<rect x="771" y="499" width="1" height="4" fill="#000"/>
<rect x="764" y="499" width="1" height="1" fill="#fff"/>
<rect x="771" y="499" width="1" height="1" fill="#fff"/>
<rect x="764" y="502" width="1" height="1" fill="#fff"/>
<rect x="771" y="502" width="1" height="1" fill="#fff"/>
<rect x="775" y="493" width="4" height="4" fill="#000"/>
<rect x="773" y="494" width="8" height="2" fill="#000"/>
<rect x="773" y="499" width="8" height="1" fill="#000"/>
<rect x="773" y="502" width="8" height="1" fill="#000"/>
<rect x="773" y="499" width="1" height="4" fill="#000"/>
<rect x="780" y="499" width="1" height="4" fill="#000"/>
<rect x="773" y="499" width="1" height="1" fill="#fff"/>
<rect x="780" y="499" width="1" height="1" fill="#fff"/>
<rect x="773" y="502" width="1" height="1" fill="#fff"/>
<rect x="780" y="502" width="1" height="1" fill="#fff"/>
<rect x="676" y="504" width="7" height="1" fill="#000"/>
<rect x="676" y="510" width="7" height="1" fill="#000"/>
<rect x="676" y="504" width="1" height="7" fill="#000"/>
<rect x="682" y="504" width="1" height="7" fill="#000"/>
<rect x="685" y="504" width="7" height="1" fill="#000"/>
<rect x="685" y="510" width="7" height="1" fill="#000"/>
<rect x="685" y="504" width="1" height="7" fill="#000"/>
<rect x="691" y="504" width="1" height="7" fill="#000"/>
<rect x="695" y="504" width="7" height="1" fill="#000"/>
<rect x="695" y="510" width="7" height="1" fill="#000"/>
<rect x="695" y="504" width="1" height="7" fill="#000"/>
<rect x="701" y="504" width="1" height="7" fill="#000"/>
<rect x="704" y="504" width="7" height="1" fill="#000"/>
<rect x="704" y="510" width="7" height="1" fill="#000"/>
<rect x="704" y="504" width="1" height="7" fill="#000"/>
<rect x="710" y="504" width="1" height="7" fill="#000"/>
<rect x="714" y="504" width="7" height="1" fill="#000"/>
<rect x="714" y="510" width="7" height="1" fill="#000"/>
<rect x="714" y="504" width="1" height="7" fill="#000"/>
<rect x="720" y="504" width="1" height="7" fill="#000"/>
<rect x="723" y="504" width="7" height="1" fill="#000"/>
<rect x="723" y="510" width="7" height="1" fill="#000"/>
<rect x="723" y="504" width="1" height="7" fill="#000"/>
<rect x="729" y="504" width="1" height="7" fill="#000"/>
<rect x="732" y="504" width="7" height="1" fill="#000"/>
<rect x="732" y="510" width="7" height="1" fill="#000"/>
<rect x="732" y="504" width="1" height="7" fill="#000"/>
<rect x="738" y="504" width="1" height="7" fill="#000"/>
<rect x="742" y="504" width="7" height="1" fill="#000"/>
<rect x="742" y="510" width="7" height="1" fill="#000"/>
<rect x="742" y="504" width="1" height="7" fill="#000"/>
<rect x="748" y="504" width="1" height="7" fill="#000"/>
<rect x="751" y="504" width="7" height="1" fill="#000"/>
<rect x="751" y="510" width="7" height="1" fill="#000"/>
<rect x="751" y="504" width="1" height="7" fill="#000"/>
<rect x="757" y="504" width="1" height="7" fill="#000"/>
<rect x="761" y="504" width="7" height="1" fill="#000"/>
<rect x="761" y="510" width="7" height="1" fill="#000"/>
<rect x="761" y="504" width="1" height="7" fill="#000"/>
<rect x="767" y="504" width="1" height="7" fill="#000"/>
<rect x="770" y="504" width="7" height="1" fill="#000"/>
<rect x="770" y="510" width="7" height="1" fill="#000"/>
<rect x="770" y="504" width="1" height="7" fill="#000"/>
<rect x="776" y="504" width="1" height="7" fill="#000"/>
<rect x="671" y="504" width="2" height="7" fill="#000"/>
<rect x="671" y="505" width="1" height="5" fill="#fff"/>
<rect x="780" y="504" width="2" height="7" fill="#000"/>
<rect x="781" y="505" width="1" height="5" fill="#fff"/>
<rect x="804" y="432" width="31" height="37" fill="#000"/>
<rect x="828" y="427" width="7" height="47" fill="#000"/>
<rect x="831" y="425" width="4" height="51" fill="#000"/>
<rect x="801" y="438" width="3" height="24" fill="#000"/>
<rect x="797" y="440" width="7" height="9" fill="#fff"/>
<rect x="797" y="440" width="7" height="1" fill="#000"/>
<rect x="797" y="448" width="7" height="1" fill="#000"/>
<rect x="797" y="440" width="1" height="9" fill="#000"/>
<rect x="803" y="440" width="1" height="9" fill="#000"/>
<rect x="797" y="451" width="7" height="9" fill="#fff"/>
<rect x="797" y="451" width="7" height="1" fill="#000"/>
<rect x="797" y="459" width="7" height="1" fill="#000"/>
<rect x="797" y="451" width="1" height="9" fill="#000"/>
<rect x="803" y="451" width="1" height="9" fill="#000"/>
<rect x="802" y="442" width="1" height="1" fill="#000"/>
<rect x="802" y="444" width="1" height="1" fill="#000"/>
<rect x="802" y="446" width="1" height="1" fill="#000"/>
<rect x="802" y="453" width="1" height="1" fill="#000"/>
<rect x="802" y="455" width="1" height="1" fill="#000"/>
<rect x="802" y="457" width="1" height="1" fill="#000"/>
<rect x="801" y="448" width="3" height="4" fill="#fff"/>
<rect x="801" y="448" width="3" height="1" fill="#000"/>
<rect x="801" y="451" width="3" height="1" fill="#000"/>
<rect x="801" y="448" width="1" height="4" fill="#000"/>
<rect x="803" y="448" width="1" height="4" fill="#000"/>
<g>
<text transform="translate(292.50,40.00) scale(0.750,1)" x="0" y="0" textLength="83.60" lengthAdjust="spacing" font-size="14.25">BIOS/ODD</text>
<text transform="translate(289.50,87.00) scale(0.750,1)" x="0" y="0" textLength="92.53" lengthAdjust="spacing" font-size="13.34">BIOS/EVEN</text>
<text transform="translate(654.50,57.00) scale(0.750,1)" x="0" y="0" textLength="56.93" lengthAdjust="spacing" font-size="13.08">MH1093</text>
<text transform="translate(116.50,95.00) scale(0.645,1)" x="0" y="0" font-size="14.53">W</text>
<text transform="translate(127.50,95.00) scale(0.953,1)" x="0" y="0" font-size="12.17">2</text>
<text transform="translate(62.24,152.00) scale(0.900,1)" x="0" y="0" textLength="23.24" lengthAdjust="spacing" font-size="11.59">J21</text>
<text transform="translate(12.24,192.00) scale(0.900,1)" x="0" y="0" textLength="22.18" lengthAdjust="spacing" font-size="13.08">J23</text>
<text transform="translate(110.02,194.00) scale(0.900,1)" x="0" y="0" textLength="23.53" lengthAdjust="spacing" font-size="13.08">J29</text>
<text transform="translate(101.50,218.74) scale(0.900,1)" x="0" y="0" textLength="23.00" lengthAdjust="spacing" font-size="13.50">J19</text>
<text transform="translate(21.02,228.52) scale(0.900,1)" x="0" y="0" textLength="22.96" lengthAdjust="spacing" font-size="13.08">J20</text>
<text transform="translate(53.48,250.76) scale(0.900,1)" x="0" y="0" textLength="23.02" lengthAdjust="spacing" font-size="13.50">J18</text>
<text transform="translate(153.50,185.00) scale(0.750,1)" x="0" y="0" textLength="35.20" lengthAdjust="spacing" font-size="14.53">CPU</text>
<text transform="translate(223.30,178.98) scale(0.750,1)" x="0" y="0" textLength="35.84" lengthAdjust="spacing" font-size="13.66">NPU</text>
<text transform="translate(172.50,242.00) scale(0.698,1)" x="0" y="0" font-size="14.53">W</text>
<text transform="translate(185.50,242.00) scale(0.540,1)" x="0" y="0" font-size="13.08">1</text>
<text transform="translate(392.54,386.00) scale(0.750,1)" x="0" y="0" textLength="64.21" lengthAdjust="spacing" font-size="14.53">BANK 0</text>
<text transform="translate(392.24,421.98) scale(0.750,1)" x="0" y="0" textLength="61.28" lengthAdjust="spacing" font-size="12.22">BANK 1</text>
<text transform="translate(640.76,388.02) scale(0.750,1)" x="0" y="0" textLength="64.24" lengthAdjust="spacing" font-size="13.66">BANK 2</text>
<text transform="translate(641.76,424.00) scale(0.750,1)" x="0" y="0" textLength="62.91" lengthAdjust="spacing" font-size="13.34">BANK 3</text>
<text transform="translate(304.78,477.00) scale(0.750,1)" x="0" y="0" textLength="33.23" lengthAdjust="spacing" font-size="14.53">KBD</text>
<text transform="translate(239.50,512.74) scale(0.900,1)" x="0" y="0" textLength="22.44" lengthAdjust="spacing" font-size="11.91">J30</text>
<text transform="translate(575.25,491.00) scale(0.900,1)" x="0" y="0" textLength="22.70" lengthAdjust="spacing" font-size="13.34">J27</text>
<text transform="translate(575.25,510.00) scale(0.900,1)" x="0" y="0" textLength="22.70" lengthAdjust="spacing" font-size="13.50">J28</text>
<text transform="translate(651.02,467.76) scale(0.900,1)" x="0" y="0" textLength="24.58" lengthAdjust="spacing" font-size="13.66">J17</text>
<text transform="translate(639.02,543.52) scale(0.900,1)" x="0" y="0" textLength="24.33" lengthAdjust="spacing" font-size="12.52">J24</text>
</g>
</svg></body></html>
